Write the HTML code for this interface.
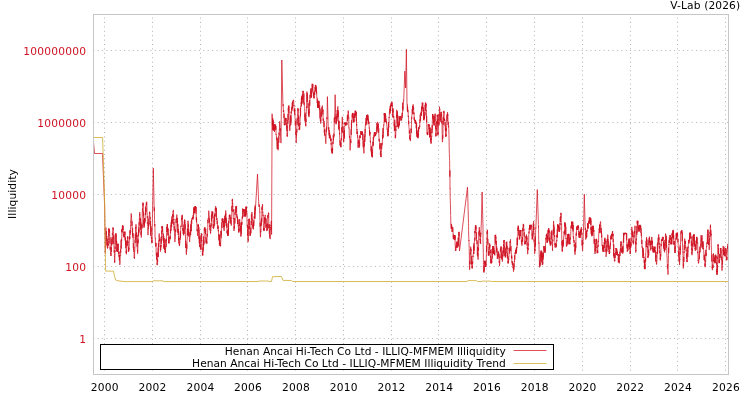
<!DOCTYPE html>
<html lang="en"><head><meta charset="utf-8"><title>V-Lab Illiquidity</title>
<style>
html,body{margin:0;padding:0;background:#fff;}
body{width:750px;height:400px;overflow:hidden;}
svg{display:block;}
text{font-family:"DejaVu Sans","Liberation Sans",sans-serif;font-size:10.667px;}
.yl{fill:#d01424;text-anchor:end;letter-spacing:0.22px;}
.xl{fill:#000;text-anchor:middle;letter-spacing:0.22px;}
.g{stroke:#b4b4b4;stroke-width:1;stroke-dasharray:1 3.4;fill:none;}
</style></head><body>
<svg width="750" height="400" viewBox="0 0 750 400">
<rect x="0" y="0" width="750" height="400" fill="#fff"/>
<line class="g" x1="93.30" y1="50.50" x2="728.50" y2="50.50"/>
<line class="g" x1="93.30" y1="122.50" x2="728.50" y2="122.50"/>
<line class="g" x1="93.30" y1="194.50" x2="728.50" y2="194.50"/>
<line class="g" x1="93.30" y1="266.50" x2="728.50" y2="266.50"/>
<line class="g" x1="93.30" y1="338.50" x2="728.50" y2="338.50"/>
<line class="g" x1="104.50" y1="375.00" x2="104.50" y2="14.50"/>
<line class="g" x1="152.50" y1="375.00" x2="152.50" y2="14.50"/>
<line class="g" x1="200.50" y1="375.00" x2="200.50" y2="14.50"/>
<line class="g" x1="247.50" y1="375.00" x2="247.50" y2="14.50"/>
<line class="g" x1="295.50" y1="375.00" x2="295.50" y2="14.50"/>
<line class="g" x1="343.50" y1="375.00" x2="343.50" y2="14.50"/>
<line class="g" x1="391.50" y1="375.00" x2="391.50" y2="14.50"/>
<line class="g" x1="438.50" y1="375.00" x2="438.50" y2="14.50"/>
<line class="g" x1="486.50" y1="375.00" x2="486.50" y2="14.50"/>
<line class="g" x1="534.50" y1="375.00" x2="534.50" y2="14.50"/>
<line class="g" x1="582.50" y1="375.00" x2="582.50" y2="14.50"/>
<line class="g" x1="630.50" y1="375.00" x2="630.50" y2="14.50"/>
<line class="g" x1="677.50" y1="375.00" x2="677.50" y2="14.50"/>
<line class="g" x1="725.50" y1="375.00" x2="725.50" y2="14.50"/>
<polyline fill="none" stroke="#d01424" stroke-width="0.75" stroke-linejoin="round" points="93.5,142.0 94.5,153.5 102.5,153.5 104.6,205.0 105.3,253.6 105.4,252.8 105.4,244.9 105.5,243.0 105.6,240.8 105.7,237.6 105.8,233.9 105.8,230.5 105.9,227.6 106.0,231.2 106.1,232.3 106.2,231.8 106.2,232.4 106.3,235.5 106.4,231.3 106.5,235.4 106.6,236.6 106.6,240.6 106.7,241.0 106.8,236.0 106.9,245.6 107.0,242.0 107.0,241.4 107.1,238.9 107.2,244.8 107.3,242.7 107.4,247.8 107.4,246.0 107.5,248.5 107.6,247.6 107.7,247.4 107.8,247.9 107.8,243.8 107.9,245.4 108.0,240.7 108.1,241.1 108.2,245.7 108.2,242.9 108.3,238.5 108.4,239.6 108.5,238.5 108.6,233.0 108.6,228.6 108.7,232.4 108.8,233.2 108.9,236.2 109.0,233.9 109.0,228.7 109.1,230.8 109.2,228.7 109.3,230.1 109.4,231.5 109.4,230.3 109.5,232.5 109.6,231.1 109.7,233.8 109.8,238.5 109.8,239.0 109.9,243.5 110.0,237.3 110.1,241.1 110.2,249.7 110.2,246.9 110.3,246.7 110.4,250.7 110.5,251.8 110.6,252.3 110.6,253.9 110.7,252.8 110.8,252.9 110.9,255.9 111.0,254.7 111.0,255.6 111.1,255.1 111.2,249.4 111.3,247.3 111.4,250.7 111.4,251.9 111.5,246.6 111.6,242.6 111.7,245.3 111.8,240.4 111.8,238.7 111.9,243.6 112.0,244.1 112.1,241.8 112.2,237.1 112.2,243.5 112.3,238.1 112.4,233.1 112.5,234.7 112.6,233.3 112.6,231.3 112.7,230.9 112.8,229.9 112.9,227.7 113.0,228.8 113.0,229.1 113.1,227.6 113.2,229.8 113.3,229.3 113.4,235.2 113.4,235.4 113.5,238.2 113.6,237.1 113.7,240.9 113.8,244.2 113.8,242.3 113.9,234.7 114.0,244.9 114.1,249.5 114.2,251.3 114.2,252.3 114.3,250.2 114.4,253.6 114.5,258.2 114.6,262.2 114.6,260.7 114.7,262.7 114.8,260.4 114.9,258.6 115.0,250.6 115.0,251.8 115.1,246.6 115.2,248.9 115.3,246.5 115.4,245.7 115.4,239.2 115.5,237.3 115.6,234.5 115.7,233.2 115.8,235.1 115.8,236.4 115.9,235.6 116.0,236.4 116.1,241.4 116.2,233.7 116.2,243.4 116.3,241.0 116.4,244.9 116.5,243.3 116.6,243.3 116.6,240.9 116.7,242.1 116.8,251.5 116.9,244.4 117.0,247.8 117.0,251.1 117.1,249.2 117.2,248.9 117.3,251.0 117.4,251.4 117.4,252.0 117.5,249.6 117.6,251.4 117.7,247.0 117.8,243.9 117.8,250.3 117.9,244.4 118.0,245.7 118.1,243.6 118.2,244.6 118.2,244.9 118.3,245.9 118.4,246.1 118.5,252.0 118.6,252.0 118.6,253.7 118.7,253.8 118.8,252.0 118.9,254.2 119.0,251.5 119.0,256.6 119.1,254.8 119.2,257.1 119.3,257.3 119.4,260.4 119.4,254.9 119.5,258.9 119.6,260.0 119.7,261.6 119.8,261.6 119.8,264.8 119.9,262.9 120.0,262.6 120.1,259.5 120.2,259.1 120.2,258.5 120.3,256.4 120.4,255.3 120.5,255.9 120.6,255.3 120.6,249.4 120.7,252.7 120.8,246.6 120.9,247.1 121.0,244.9 121.0,240.5 121.1,241.2 121.2,243.2 121.3,248.7 121.4,238.8 121.4,240.8 121.5,239.5 121.6,240.6 121.7,241.2 121.8,234.7 121.8,229.7 121.9,231.7 122.0,228.9 122.1,232.1 122.2,229.3 122.2,228.5 122.3,228.3 122.4,225.6 122.5,225.2 122.6,227.6 122.6,230.3 122.7,230.0 122.8,225.8 122.9,229.9 123.0,229.5 123.0,227.5 123.1,225.7 123.2,233.4 123.3,231.9 123.4,234.0 123.4,235.8 123.5,235.7 123.6,234.3 123.7,236.2 123.8,236.7 123.8,237.1 123.9,236.7 124.0,236.4 124.1,234.7 124.2,234.7 124.2,237.4 124.3,235.9 124.4,237.0 124.5,237.2 124.6,234.2 124.6,233.6 124.7,231.7 124.8,232.9 124.9,234.9 125.0,231.6 125.0,233.3 125.1,237.9 125.2,240.6 125.3,237.2 125.4,239.7 125.4,238.0 125.5,243.0 125.6,245.0 125.7,240.3 125.8,243.4 125.8,248.1 125.9,243.8 126.0,245.4 126.1,252.4 126.2,252.1 126.2,253.0 126.3,251.0 126.4,254.3 126.5,252.5 126.6,250.7 126.6,252.4 126.7,246.5 126.8,245.2 126.9,241.1 127.0,244.8 127.0,242.2 127.1,240.6 127.2,246.1 127.3,240.2 127.4,240.5 127.4,236.9 127.5,236.4 127.6,236.6 127.7,238.9 127.8,237.5 127.8,236.5 127.9,239.8 128.0,241.6 128.1,242.5 128.2,242.7 128.2,241.6 128.3,245.7 128.4,248.8 128.5,252.0 128.6,251.6 128.6,247.4 128.7,250.0 128.8,251.0 128.9,248.3 129.0,248.5 129.0,249.4 129.1,248.0 129.2,244.2 129.3,242.5 129.4,237.6 129.4,238.3 129.5,237.6 129.6,238.6 129.7,235.6 129.8,239.3 129.8,235.3 129.9,231.8 130.0,230.5 130.1,234.3 130.2,234.8 130.2,230.3 130.3,233.0 130.4,230.0 130.5,227.7 130.6,224.8 130.6,223.6 130.7,221.7 130.8,220.7 130.9,221.3 131.0,217.6 131.0,217.7 131.1,216.3 131.2,213.4 131.3,214.8 131.4,216.5 131.4,216.0 131.5,217.6 131.6,217.7 131.7,220.6 131.8,221.7 131.8,221.8 131.9,225.8 132.0,221.2 132.1,228.4 132.2,228.3 132.2,228.4 132.3,232.3 132.4,232.4 132.5,236.0 132.6,227.8 132.6,233.2 132.7,234.1 132.8,236.6 132.9,237.9 133.0,236.1 133.0,233.1 133.1,233.2 133.2,233.8 133.3,247.7 133.4,247.8 133.4,243.2 133.5,243.6 133.6,245.2 133.7,250.0 133.8,247.0 133.8,251.6 133.9,251.5 134.0,250.1 134.1,255.5 134.2,257.9 134.2,257.4 134.3,257.8 134.4,257.3 134.5,258.7 134.6,255.0 134.6,253.7 134.7,252.2 134.8,249.7 134.9,248.6 135.0,245.4 135.0,244.2 135.1,240.1 135.2,243.0 135.3,233.9 135.4,236.7 135.4,239.9 135.5,236.9 135.6,227.0 135.7,228.4 135.8,227.1 135.8,228.4 135.9,224.6 136.0,224.3 136.1,224.9 136.2,226.1 136.2,228.1 136.3,233.9 136.4,233.8 136.5,232.7 136.6,237.0 136.6,232.5 136.7,236.3 136.8,237.0 136.9,242.3 137.0,234.9 137.0,242.2 137.1,246.8 137.2,240.9 137.3,248.0 137.4,250.6 137.4,251.0 137.5,250.0 137.6,253.7 137.7,251.2 137.8,251.4 137.8,248.5 137.9,245.8 138.0,242.3 138.1,239.4 138.2,243.2 138.2,238.6 138.3,237.7 138.4,234.3 138.5,232.0 138.6,236.1 138.6,229.2 138.7,233.4 138.8,230.5 138.9,226.7 139.0,232.4 139.0,228.6 139.1,222.3 139.2,225.6 139.3,219.6 139.4,219.9 139.4,217.2 139.5,215.6 139.6,212.6 139.7,212.9 139.8,212.4 139.8,215.3 139.9,214.4 140.0,216.6 140.1,218.0 140.2,223.1 140.2,218.5 140.3,217.8 140.4,220.4 140.5,227.4 140.6,219.0 140.6,224.4 140.7,230.1 140.8,222.5 140.9,227.0 141.0,234.9 141.0,233.8 141.1,231.7 141.2,236.7 141.3,237.5 141.4,234.4 141.4,230.7 141.5,231.8 141.6,228.2 141.7,228.3 141.8,225.0 141.8,227.3 141.9,223.7 142.0,228.5 142.1,224.5 142.2,219.5 142.2,215.8 142.3,211.8 142.4,212.0 142.5,208.5 142.6,210.4 142.6,209.0 142.7,208.0 142.8,205.4 142.9,202.7 143.0,205.9 143.0,202.8 143.1,202.9 143.2,204.5 143.3,216.6 143.4,211.6 143.4,213.7 143.5,216.4 143.6,221.2 143.7,224.2 143.8,219.8 143.8,221.4 143.9,226.5 144.0,227.8 144.1,226.5 144.2,223.9 144.2,226.6 144.3,221.8 144.4,224.9 144.5,218.8 144.6,221.2 144.6,221.3 144.7,218.2 144.8,223.4 144.9,219.7 145.0,218.1 145.0,221.5 145.1,219.2 145.2,214.7 145.3,213.5 145.4,215.1 145.4,207.0 145.5,206.5 145.6,212.7 145.7,214.3 145.8,211.3 145.8,212.2 145.9,207.8 146.0,211.3 146.1,207.4 146.2,204.3 146.2,204.6 146.3,202.6 146.4,203.4 146.5,205.3 146.6,204.1 146.6,203.3 146.7,201.7 146.8,202.3 146.9,206.0 147.0,210.7 147.0,211.3 147.1,212.4 147.2,216.2 147.3,217.9 147.4,216.2 147.4,223.6 147.5,222.2 147.6,225.7 147.7,226.4 147.8,227.9 147.8,231.6 147.9,233.4 148.0,235.1 148.1,233.8 148.2,231.7 148.2,230.0 148.3,227.7 148.4,228.1 148.5,229.0 148.6,222.9 148.6,226.9 148.7,222.4 148.8,218.6 148.9,220.3 149.0,224.4 149.0,218.2 149.1,216.7 149.2,217.2 149.3,214.9 149.4,214.8 149.4,212.8 149.5,213.2 149.6,211.7 149.7,212.0 149.8,213.5 149.8,212.8 149.9,215.1 150.0,215.9 150.1,219.0 150.2,218.3 150.2,217.2 150.3,225.6 150.4,221.1 150.5,225.3 150.6,224.3 150.6,230.2 150.7,235.9 150.8,230.2 150.9,226.0 151.0,231.8 151.0,231.8 151.1,227.6 151.2,228.1 151.3,234.6 151.4,238.8 151.4,237.4 151.5,237.9 151.6,238.6 151.7,238.1 151.8,243.2 151.8,242.2 151.9,240.2 152.0,242.6 153.3,168.2 154.1,204.8 154.2,209.0 154.2,211.1 154.3,207.4 154.4,210.9 154.5,219.7 154.6,223.5 154.6,224.1 154.7,226.2 154.8,224.0 154.9,227.5 155.0,231.0 155.0,235.0 155.1,238.0 155.2,238.4 155.3,238.2 155.4,237.9 155.4,242.9 155.5,244.4 155.6,245.4 155.7,245.8 155.8,243.1 155.8,246.7 155.9,242.8 156.0,243.4 156.1,247.3 156.2,252.1 156.2,254.8 156.3,255.5 156.4,255.4 156.5,256.0 156.6,253.7 156.6,259.6 156.7,252.7 156.8,255.0 156.9,256.4 157.0,260.0 157.0,261.9 157.1,264.6 157.2,263.5 157.3,265.2 157.4,261.4 157.4,260.2 157.5,259.4 157.6,262.3 157.7,257.7 157.8,255.2 157.8,252.5 157.9,256.9 158.0,257.0 158.1,250.6 158.2,247.4 158.2,257.0 158.3,250.6 158.4,243.6 158.5,246.9 158.6,243.0 158.6,245.8 158.7,240.9 158.8,240.8 158.9,240.3 159.0,241.0 159.0,234.6 159.1,234.0 159.2,233.5 159.3,233.7 159.4,234.8 159.4,238.1 159.5,239.9 159.6,241.4 159.7,238.9 159.8,240.6 159.8,238.6 159.9,240.7 160.0,243.2 160.1,244.7 160.2,246.7 160.2,245.9 160.3,250.2 160.4,251.6 160.5,251.2 160.6,250.6 160.6,247.2 160.7,249.9 160.8,245.4 160.9,247.4 161.0,245.2 161.0,246.2 161.1,238.4 161.2,236.6 161.3,243.7 161.4,240.8 161.4,241.3 161.5,234.8 161.6,232.1 161.7,230.4 161.8,234.1 161.8,233.2 161.9,226.5 162.0,228.4 162.1,226.0 162.2,226.6 162.2,227.3 162.3,226.6 162.4,227.9 162.5,231.5 162.6,226.8 162.6,229.6 162.7,229.4 162.8,232.3 162.9,235.0 163.0,236.5 163.0,236.0 163.1,240.6 163.2,238.0 163.3,235.9 163.4,233.6 163.4,238.2 163.5,239.7 163.6,242.9 163.7,236.0 163.8,244.6 163.8,248.6 163.9,246.2 164.0,244.1 164.1,244.9 164.2,247.5 164.2,246.1 164.3,238.1 164.4,249.2 164.5,245.5 164.6,244.8 164.6,249.7 164.7,247.7 164.8,246.5 164.9,250.1 165.0,247.9 165.0,249.1 165.1,251.7 165.2,250.8 165.3,252.9 165.4,250.5 165.4,253.1 165.5,250.5 165.6,245.8 165.7,245.3 165.8,242.0 165.8,239.5 165.9,242.1 166.0,241.6 166.1,242.4 166.2,247.1 166.2,238.8 166.3,241.1 166.4,239.8 166.5,232.4 166.6,229.4 166.6,227.7 166.7,227.1 166.8,228.3 166.9,230.9 167.0,231.7 167.0,226.9 167.1,227.1 167.2,224.3 167.3,226.2 167.4,228.8 167.4,224.1 167.5,224.7 167.6,232.2 167.7,227.6 167.8,230.2 167.8,228.5 167.9,235.5 168.0,228.9 168.1,229.2 168.2,234.8 168.2,234.1 168.3,233.5 168.4,234.5 168.5,243.2 168.6,241.3 168.6,238.6 168.7,237.3 168.8,239.7 168.9,240.3 169.0,243.3 169.0,242.4 169.1,243.2 169.2,242.5 169.3,240.6 169.4,240.6 169.4,240.4 169.5,240.5 169.6,240.7 169.7,238.0 169.8,238.5 169.8,237.4 169.9,238.8 170.0,235.7 170.1,237.5 170.2,236.4 170.2,239.3 170.3,233.2 170.4,229.4 170.5,231.2 170.6,233.4 170.6,228.7 170.7,228.0 170.8,225.5 170.9,226.0 171.0,226.1 171.0,230.8 171.1,229.0 171.2,222.1 171.3,226.7 171.4,223.2 171.4,221.9 171.5,219.8 171.6,227.0 171.7,223.6 171.8,219.8 171.8,216.5 171.9,217.0 172.0,220.7 172.1,220.6 172.2,222.3 172.2,222.2 172.3,219.5 172.4,223.7 172.5,218.5 172.6,214.1 172.6,214.5 172.7,216.5 172.8,215.1 172.9,213.4 173.0,211.6 173.0,211.1 173.1,211.0 173.2,211.4 173.3,210.6 173.4,209.9 173.4,212.3 173.5,216.9 173.6,215.3 173.7,220.4 173.8,218.9 173.8,225.1 173.9,221.5 174.0,223.4 174.1,229.3 174.2,230.5 174.2,229.9 174.3,225.9 174.4,229.8 174.5,234.8 174.6,234.5 174.6,236.8 174.7,238.7 174.8,240.3 174.9,242.0 175.0,240.4 175.0,239.3 175.1,238.6 175.2,237.9 175.3,238.2 175.4,235.7 175.4,236.0 175.5,230.2 175.6,229.7 175.7,232.1 175.8,230.0 175.8,228.8 175.9,229.3 176.0,228.4 176.1,219.1 176.2,222.8 176.2,223.0 176.3,219.1 176.4,218.4 176.5,219.7 176.6,218.9 176.6,219.5 176.7,215.7 176.8,214.6 176.9,216.5 177.0,216.7 177.0,218.4 177.1,220.3 177.2,217.8 177.3,218.0 177.4,222.0 177.4,226.2 177.5,219.9 177.6,227.6 177.7,228.0 177.8,232.8 177.8,224.8 177.9,224.1 178.0,228.3 178.1,231.0 178.2,230.8 178.2,235.0 178.3,229.2 178.4,231.0 178.5,232.2 178.6,234.8 178.6,240.0 178.7,236.5 178.8,240.2 178.9,243.3 179.0,238.2 179.0,241.0 179.1,243.5 179.2,243.2 179.3,244.5 179.4,245.9 179.4,243.9 179.5,245.3 179.6,243.9 179.7,244.4 179.8,243.2 179.8,242.2 179.9,242.3 180.0,238.4 180.1,239.7 180.2,237.9 180.2,236.4 180.3,231.3 180.4,238.4 180.5,233.1 180.6,236.2 180.6,236.0 180.7,229.3 180.8,225.9 180.9,225.8 181.0,225.7 181.0,226.6 181.1,226.9 181.2,226.3 181.3,226.4 181.4,223.9 181.4,222.4 181.5,220.0 181.6,218.1 181.7,219.8 181.8,217.9 181.8,216.5 181.9,215.6 182.0,216.6 182.1,217.8 182.2,219.1 182.2,215.3 182.3,214.8 182.4,216.9 182.5,219.6 182.6,227.1 182.6,227.2 182.7,227.4 182.8,229.6 182.9,228.1 183.0,231.2 183.0,228.9 183.1,233.8 183.2,233.6 183.3,232.3 183.4,231.6 183.4,233.5 183.5,235.0 183.6,235.3 183.7,230.6 183.8,229.8 183.8,234.2 183.9,224.6 184.0,228.1 184.1,233.8 184.2,224.3 184.2,223.8 184.3,221.7 184.4,222.7 184.5,219.5 184.6,220.7 184.6,224.3 184.7,222.1 184.8,220.0 184.9,220.3 185.0,223.2 185.0,223.4 185.1,229.3 185.2,223.8 185.3,230.7 185.4,235.5 185.4,235.6 185.5,235.3 185.6,248.0 185.7,240.9 185.8,244.2 185.8,243.2 185.9,242.6 186.0,244.1 186.1,244.5 186.2,249.4 186.2,253.1 186.3,252.8 186.4,254.6 186.5,253.0 186.6,249.6 186.6,250.9 186.7,244.3 186.8,246.8 186.9,248.8 187.0,245.4 187.0,239.7 187.1,239.6 187.2,239.7 187.3,236.7 187.4,228.7 187.4,235.3 187.5,229.8 187.6,227.7 187.7,227.1 187.8,224.7 187.8,224.5 187.9,221.1 188.0,220.8 188.1,222.0 188.2,221.8 188.2,223.3 188.3,227.4 188.4,223.8 188.5,231.0 188.6,235.7 188.6,232.0 188.7,228.8 188.8,232.3 188.9,233.7 189.0,231.9 189.0,236.3 189.1,233.1 189.2,236.6 189.3,236.3 189.4,238.1 189.4,238.5 189.5,241.2 189.6,242.0 189.7,241.4 189.8,239.3 189.8,239.0 189.9,237.5 190.0,236.9 190.1,235.9 190.2,236.2 190.2,234.5 190.3,233.9 190.4,234.6 190.5,231.2 190.6,229.8 190.6,235.1 190.7,233.9 190.8,225.1 190.9,224.6 191.0,231.2 191.0,223.7 191.1,231.1 191.2,229.0 191.3,221.4 191.4,222.4 191.4,222.5 191.5,219.7 191.6,223.8 191.7,223.9 191.8,223.5 191.8,221.3 191.9,219.7 192.0,218.6 192.1,217.9 192.2,218.6 192.2,219.2 192.3,219.2 192.4,218.1 192.5,218.8 192.6,219.0 192.6,217.1 192.7,218.0 192.8,217.2 192.9,219.4 193.0,219.6 193.0,218.6 193.1,215.2 193.2,216.4 193.3,218.5 193.4,217.0 193.4,214.6 193.5,212.0 193.6,213.0 193.7,212.4 193.8,214.8 193.8,207.4 193.9,210.0 194.0,212.7 194.1,207.4 194.2,210.0 194.2,209.1 194.3,212.8 194.4,208.8 194.5,213.0 194.6,211.1 194.6,210.9 194.7,207.5 194.8,206.9 194.9,208.9 195.0,208.7 195.0,206.1 195.1,209.6 195.2,211.1 195.3,207.1 195.4,206.0 195.4,207.5 195.5,206.0 195.6,208.0 195.7,206.5 195.8,208.0 195.8,208.8 195.9,212.1 196.0,213.7 196.1,207.1 196.2,211.5 196.2,213.8 196.3,220.2 196.4,217.1 196.5,222.2 196.6,218.8 196.6,219.9 196.7,222.7 196.8,222.9 196.9,225.9 197.0,229.9 197.0,231.1 197.1,231.2 197.2,229.7 197.3,228.9 197.4,231.0 197.4,232.5 197.5,234.3 197.6,235.8 197.7,236.0 197.8,233.0 197.8,233.0 197.9,230.8 198.0,226.8 198.1,224.5 198.2,226.8 198.2,224.4 198.3,226.8 198.4,224.7 198.5,225.2 198.6,229.4 198.6,228.0 198.7,230.6 198.8,226.8 198.9,236.5 199.0,239.0 199.0,230.0 199.1,234.3 199.2,240.7 199.3,243.2 199.4,237.2 199.4,236.4 199.5,236.9 199.6,247.0 199.7,245.5 199.8,245.1 199.8,240.1 199.9,236.4 200.0,238.8 200.1,242.8 200.2,245.9 200.2,246.6 200.3,246.4 200.4,249.6 200.5,249.5 200.6,247.7 200.6,245.3 200.7,244.4 200.8,244.1 200.9,249.4 201.0,248.3 201.0,243.2 201.1,234.8 201.2,239.7 201.3,241.7 201.4,238.0 201.4,236.6 201.5,233.4 201.6,234.1 201.7,235.0 201.8,233.9 201.8,240.6 201.9,240.0 202.0,246.0 202.1,247.9 202.2,248.8 202.2,249.8 202.3,248.4 202.4,255.2 202.5,251.8 202.6,252.1 202.6,254.0 202.7,255.7 202.8,254.0 202.9,254.7 203.0,250.9 203.0,251.9 203.1,251.2 203.2,247.0 203.3,250.4 203.4,244.1 203.4,246.6 203.5,239.4 203.6,236.5 203.7,239.5 203.8,245.2 203.8,240.7 203.9,243.7 204.0,243.7 204.1,241.7 204.2,238.5 204.2,229.2 204.3,229.7 204.4,227.7 204.5,230.6 204.6,229.1 204.6,229.5 204.7,228.4 204.8,227.6 204.9,227.1 205.0,227.8 205.0,229.4 205.1,232.4 205.2,232.9 205.3,230.0 205.4,229.8 205.4,234.2 205.5,234.2 205.6,229.3 205.7,228.6 205.8,228.6 205.8,228.9 205.9,239.2 206.0,237.1 206.1,243.4 206.2,239.1 206.2,242.1 206.3,240.0 206.4,241.0 206.5,241.9 206.6,241.6 206.6,242.6 206.7,243.5 206.8,241.9 206.9,243.3 207.0,242.3 207.0,240.4 207.1,237.8 207.2,233.9 207.3,235.1 207.4,236.5 207.4,235.1 207.5,232.4 207.6,230.9 207.7,227.6 207.8,227.3 207.8,220.9 207.9,219.6 208.0,222.6 208.1,223.2 208.2,222.5 208.2,220.3 208.3,218.2 208.4,218.9 208.5,217.9 208.6,218.6 208.6,214.0 208.7,211.9 208.8,210.7 208.9,213.0 209.0,214.1 209.0,214.4 209.1,216.0 209.2,215.9 209.3,219.6 209.4,219.2 209.4,222.6 209.5,218.5 209.6,222.9 209.7,226.7 209.8,225.1 209.8,226.1 209.9,227.1 210.0,230.1 210.1,225.5 210.2,227.0 210.2,229.9 210.3,231.2 210.4,232.9 210.5,232.2 210.6,233.6 210.6,229.7 210.7,229.7 210.8,230.8 210.9,230.2 211.0,228.3 211.0,225.5 211.1,223.2 211.2,226.6 211.3,223.3 211.4,222.3 211.4,215.9 211.5,221.3 211.6,216.9 211.7,214.4 211.8,216.2 211.8,214.7 211.9,211.4 212.0,211.8 212.1,212.1 212.2,211.6 212.2,215.4 212.3,212.0 212.4,212.2 212.5,214.8 212.6,216.5 212.6,214.3 212.7,214.2 212.8,211.8 212.9,218.5 213.0,216.6 213.0,218.8 213.1,225.0 213.2,228.3 213.3,224.1 213.4,226.2 213.4,227.1 213.5,228.3 213.6,228.8 213.7,227.4 213.8,225.5 213.8,227.5 213.9,226.5 214.0,222.2 214.1,219.7 214.2,220.1 214.2,221.7 214.3,220.7 214.4,216.0 214.5,214.4 214.6,217.4 214.6,225.5 214.7,217.9 214.8,214.8 214.9,216.2 215.0,213.6 215.0,215.5 215.1,212.1 215.2,211.3 215.3,208.6 215.4,209.8 215.4,207.6 215.5,206.5 215.6,206.3 215.7,206.2 215.8,211.4 215.8,210.3 215.9,209.2 216.0,207.8 216.1,210.7 216.2,217.0 216.2,214.1 216.3,212.5 216.4,207.9 216.5,211.1 216.6,218.4 216.6,217.6 216.7,218.5 216.8,220.0 216.9,218.3 217.0,219.7 217.0,221.1 217.1,222.9 217.2,224.2 217.3,220.6 217.4,222.4 217.4,225.5 217.5,225.6 217.6,225.6 217.7,225.8 217.8,228.8 217.8,226.8 217.9,225.2 218.0,228.7 218.1,228.5 218.2,226.7 218.2,230.4 218.3,231.3 218.4,229.9 218.5,229.9 218.6,232.9 218.6,235.4 218.7,235.6 218.8,240.3 218.9,239.9 219.0,234.1 219.0,236.4 219.1,235.0 219.2,236.3 219.3,236.4 219.4,241.9 219.4,245.7 219.5,235.1 219.6,241.6 219.7,244.5 219.8,243.9 219.8,239.3 219.9,240.6 220.0,244.1 220.1,243.8 220.2,242.7 220.2,243.9 220.3,244.8 220.4,246.2 220.5,244.8 220.6,246.2 220.6,246.2 220.7,242.7 220.8,240.7 220.9,231.9 221.0,231.0 221.0,235.8 221.1,238.4 221.2,230.7 221.3,235.4 221.4,232.3 221.4,228.8 221.5,227.4 221.6,227.4 221.7,226.9 221.8,223.3 221.8,222.4 221.9,228.1 222.0,228.1 222.1,220.3 222.2,218.5 222.2,221.1 222.3,218.7 222.4,218.7 222.5,219.1 222.6,218.8 222.6,220.4 222.7,222.4 222.8,219.5 222.9,218.6 223.0,220.0 223.0,219.4 223.1,223.0 223.2,222.9 223.3,221.6 223.4,223.2 223.4,227.2 223.5,223.3 223.6,220.7 223.7,220.6 223.8,227.2 223.8,228.6 223.9,228.3 224.0,230.8 224.1,230.7 224.2,230.9 224.2,226.2 224.3,227.3 224.4,225.3 224.5,226.3 224.6,223.5 224.6,217.9 224.7,220.7 224.8,226.0 224.9,215.7 225.0,223.0 225.0,220.0 225.1,218.9 225.2,216.5 225.3,221.6 225.4,214.0 225.4,217.5 225.5,216.4 225.6,213.0 225.7,210.5 225.8,210.9 225.8,214.4 225.9,213.9 226.0,213.7 226.1,217.0 226.2,223.1 226.2,218.3 226.3,217.8 226.4,223.1 226.5,225.5 226.6,224.1 226.6,224.4 226.7,225.2 226.8,227.6 226.9,223.1 227.0,231.5 227.0,232.3 227.1,233.5 227.2,230.9 227.3,232.8 227.4,230.9 227.4,230.7 227.5,234.2 227.6,235.7 227.7,234.5 227.8,231.2 227.8,235.9 227.9,230.0 228.0,235.5 228.1,232.3 228.2,229.1 228.2,235.5 228.3,227.7 228.4,223.5 228.5,231.3 228.6,224.3 228.6,224.0 228.7,221.2 228.8,223.4 228.9,220.6 229.0,221.2 229.0,221.3 229.1,218.2 229.2,219.2 229.3,215.1 229.4,215.2 229.4,217.0 229.5,214.9 229.6,215.3 229.7,215.7 229.8,217.6 229.8,214.5 229.9,214.8 230.0,215.5 230.1,215.6 230.2,215.5 230.2,219.0 230.3,219.2 230.4,217.6 230.5,217.0 230.6,218.6 230.6,223.1 230.7,219.1 230.8,220.5 230.9,223.6 231.0,222.6 231.0,223.2 231.1,223.9 231.2,224.5 231.3,225.6 231.4,223.6 231.4,219.5 231.5,216.4 231.6,216.3 231.7,214.6 231.8,213.0 231.8,206.2 231.9,210.2 232.0,211.0 232.1,207.1 232.2,204.5 232.2,199.7 232.3,200.9 232.4,198.9 232.5,198.9 232.6,204.2 232.6,203.2 232.7,207.1 232.8,205.9 232.9,211.7 233.0,209.8 233.0,211.6 233.1,210.0 233.2,209.2 233.3,218.9 233.4,218.3 233.4,218.7 233.5,219.1 233.6,222.2 233.7,225.1 233.8,225.4 233.8,226.0 233.9,229.0 234.0,230.9 234.1,229.3 234.2,228.2 234.2,226.2 234.3,226.1 234.4,228.6 234.5,226.6 234.6,218.0 234.6,218.8 234.7,219.4 234.8,218.4 234.9,223.5 235.0,216.2 235.0,212.3 235.1,214.8 235.2,209.6 235.3,211.4 235.4,211.0 235.4,210.9 235.5,207.8 235.6,206.9 235.7,206.5 235.8,206.3 235.8,208.4 235.9,213.2 236.0,210.8 236.1,211.9 236.2,208.3 236.2,206.8 236.3,208.2 236.4,208.7 236.5,210.2 236.6,205.9 236.6,206.7 236.7,215.8 236.8,214.2 236.9,217.9 237.0,215.9 237.0,216.1 237.1,217.1 237.2,217.1 237.3,218.1 237.4,219.1 237.4,220.5 237.5,217.0 237.6,217.7 237.7,223.9 237.8,220.4 237.8,224.1 237.9,223.5 238.0,219.4 238.1,223.7 238.2,224.2 238.2,225.3 238.3,226.4 238.4,225.2 238.5,230.7 238.6,228.9 238.6,231.8 238.7,229.6 238.8,232.7 238.9,228.9 239.0,228.7 239.0,231.5 239.1,227.1 239.2,226.2 239.3,223.5 239.4,226.0 239.4,224.9 239.5,221.2 239.6,219.0 239.7,219.6 239.8,220.4 239.8,222.6 239.9,224.5 240.0,224.0 240.1,223.4 240.2,230.4 240.2,227.8 240.3,229.1 240.4,226.0 240.5,228.5 240.6,231.5 240.6,230.6 240.7,233.3 240.8,234.9 240.9,236.6 241.0,234.5 241.0,235.4 241.1,229.3 241.2,222.0 241.3,234.0 241.4,229.8 241.4,224.9 241.5,226.7 241.6,223.0 241.7,224.0 241.8,222.0 241.8,225.0 241.9,220.2 242.0,219.4 242.1,219.4 242.2,218.8 242.2,217.4 242.3,218.5 242.4,216.1 242.5,217.9 242.6,215.5 242.6,208.4 242.7,208.6 242.8,212.6 242.9,217.2 243.0,211.9 243.0,211.8 243.1,211.7 243.2,210.4 243.3,209.4 243.4,210.6 243.4,209.2 243.5,209.7 243.6,209.3 243.7,209.0 243.8,209.6 243.8,209.7 243.9,211.0 244.0,212.9 244.1,211.4 244.2,209.2 244.2,216.1 244.3,215.3 244.4,209.8 244.5,214.6 244.6,213.4 244.6,216.3 244.7,215.6 244.8,214.9 244.9,215.8 245.0,216.4 245.0,216.7 245.1,216.3 245.2,215.9 245.3,216.6 245.4,214.0 245.4,215.7 245.5,214.9 245.6,208.7 245.7,215.8 245.8,213.8 245.8,206.6 245.9,208.5 246.0,207.6 246.1,207.1 246.2,213.0 246.2,210.3 246.3,210.0 246.4,208.4 246.5,206.5 246.6,208.5 246.6,209.4 246.7,213.9 246.8,214.4 246.9,213.3 247.0,216.9 247.0,219.1 247.1,224.9 247.2,225.6 247.3,225.2 247.4,228.0 247.4,227.4 247.5,224.9 247.6,236.0 247.7,229.1 247.8,232.3 247.8,237.8 247.9,240.2 248.0,241.8 248.1,242.1 248.2,241.7 248.2,239.3 248.3,239.8 248.4,240.3 248.5,234.0 248.6,227.0 248.6,226.3 248.7,229.2 248.8,218.9 248.9,224.9 249.0,225.5 249.0,220.9 249.1,220.6 249.2,219.2 249.3,219.8 249.4,218.6 249.4,222.3 249.5,229.1 249.6,226.7 249.7,227.9 249.8,226.7 249.8,229.6 249.9,231.3 250.0,235.8 250.1,232.2 250.2,231.1 250.2,234.0 250.3,235.5 250.4,235.5 250.5,232.4 250.6,234.1 250.6,232.4 250.7,228.2 250.8,229.6 250.9,233.1 251.0,230.2 251.0,224.6 251.1,224.7 251.2,220.7 251.3,225.0 251.4,219.4 251.4,214.5 251.5,219.9 251.6,217.8 251.7,217.9 251.8,213.3 251.8,212.4 251.9,212.0 252.0,214.7 252.1,214.4 252.2,214.4 252.2,216.1 252.3,217.2 252.4,220.2 252.5,219.4 252.6,222.1 252.6,223.1 252.7,226.8 252.8,226.7 252.9,228.6 253.0,224.8 253.0,226.1 253.1,227.0 253.2,226.8 253.3,223.5 253.4,229.4 253.4,221.9 253.5,225.9 253.6,223.6 253.7,222.4 253.8,220.5 253.8,226.0 253.9,221.3 254.0,221.2 254.1,219.2 254.2,217.1 254.2,216.9 254.3,216.1 254.4,218.3 254.5,216.3 254.6,211.7 254.6,214.7 254.7,212.7 254.8,213.3 254.9,211.8 255.0,207.2 255.0,218.7 255.1,207.7 255.2,205.3 255.3,210.6 255.4,208.8 255.4,207.4 255.5,207.6 255.6,205.9 257.5,174.1 258.8,205.0 258.9,204.8 259.0,204.5 259.0,206.0 259.1,207.0 259.2,205.3 259.3,204.9 259.4,206.7 259.4,206.9 259.5,207.0 259.6,207.3 259.7,211.1 259.8,212.4 259.8,211.8 259.9,219.7 260.0,220.7 260.1,226.5 260.2,222.7 260.2,231.4 260.3,233.6 260.4,237.1 260.5,237.2 260.6,234.8 260.6,230.6 260.7,231.1 260.8,232.2 260.9,229.1 261.0,229.6 261.0,224.9 261.1,225.5 261.2,225.8 261.3,219.4 261.4,225.2 261.4,221.3 261.5,222.4 261.6,217.9 261.7,221.5 261.8,214.3 261.8,210.3 261.9,207.2 262.0,209.9 262.1,208.9 262.2,207.5 262.2,206.1 262.3,206.6 262.4,206.1 262.5,204.0 262.6,204.6 262.6,210.2 262.7,212.7 262.8,211.9 262.9,213.9 263.0,216.1 263.0,214.6 263.1,215.2 263.2,220.3 263.3,222.1 263.4,223.7 263.4,227.0 263.5,227.5 263.6,230.8 263.7,230.4 263.8,227.6 263.8,229.9 263.9,228.0 264.0,229.1 264.1,228.4 264.2,230.9 264.2,228.3 264.3,227.3 264.4,217.1 264.5,217.7 264.6,223.6 264.6,222.5 264.7,218.8 264.8,218.3 264.9,218.9 265.0,217.0 265.0,216.3 265.1,214.9 265.2,215.3 265.3,215.3 265.4,216.6 265.4,219.1 265.5,218.7 265.6,220.0 265.7,218.8 265.8,224.6 265.8,227.8 265.9,219.4 266.0,218.5 266.1,221.0 266.2,220.5 266.2,222.6 266.3,222.9 266.4,226.5 266.5,224.9 266.6,225.6 266.6,226.8 266.7,230.1 266.8,231.1 266.9,228.8 267.0,228.4 267.0,227.5 267.1,225.9 267.2,225.1 267.3,223.7 267.4,224.8 267.4,223.9 267.5,230.3 267.6,228.8 267.7,220.5 267.8,216.8 267.8,215.4 267.9,218.3 268.0,215.6 268.1,215.4 268.2,216.7 268.2,216.3 268.3,214.9 268.4,212.7 268.5,212.6 268.6,214.3 268.6,214.0 268.7,213.3 268.8,221.8 268.9,228.2 269.0,224.4 269.0,224.6 269.1,228.3 269.2,224.4 269.3,231.2 269.4,234.1 269.4,230.9 269.5,229.1 269.6,236.3 269.7,237.4 269.8,234.4 269.8,234.8 269.9,235.5 270.0,239.0 270.1,239.0 270.2,239.0 270.2,235.8 270.3,235.3 270.4,232.4 270.5,230.6 270.6,230.8 270.6,229.5 270.7,226.9 270.8,228.6 270.9,229.9 271.0,224.8 271.0,226.2 271.1,225.4 271.2,221.9 271.3,220.8 271.4,224.9 271.4,228.2 271.5,226.6 271.6,234.5 271.7,208.1 271.8,182.4 271.9,163.5 272.0,137.7 272.0,114.3 272.1,113.8 272.2,114.0 272.3,119.1 272.4,120.2 272.4,125.7 272.5,119.4 272.6,125.0 272.7,129.9 272.8,118.2 272.8,118.9 272.9,120.4 273.0,125.2 273.1,122.7 273.2,124.7 273.2,120.1 273.3,130.9 273.4,124.2 273.5,127.5 273.6,130.0 273.6,126.2 273.7,128.1 273.8,129.7 273.9,129.7 274.0,129.4 274.0,126.9 274.1,129.2 274.2,129.1 274.3,130.1 274.4,128.9 274.4,128.0 274.5,131.9 274.6,124.7 274.7,128.1 274.8,124.2 274.8,126.1 274.9,127.8 275.0,127.7 275.1,126.2 275.2,125.0 275.2,124.4 275.3,124.6 275.4,124.6 275.5,126.3 275.6,128.7 275.6,126.8 275.7,129.5 275.8,130.1 275.9,125.8 276.0,131.2 276.0,134.7 276.1,134.0 276.2,134.8 276.3,135.0 276.4,135.7 276.4,135.9 276.5,137.8 276.6,138.2 276.7,137.2 276.8,138.6 276.8,140.2 276.9,138.1 277.0,141.6 277.1,141.7 277.2,149.1 277.2,138.5 277.3,139.8 277.4,146.3 277.5,144.3 277.6,142.2 277.6,145.0 277.7,141.7 277.8,144.8 277.9,148.5 278.0,147.1 278.0,150.2 278.1,150.3 278.2,149.5 278.3,145.4 278.4,146.1 278.4,144.9 278.5,140.6 278.6,138.7 278.7,136.3 278.8,138.1 278.8,142.7 278.9,139.1 279.0,135.0 279.1,132.4 279.2,135.6 279.2,132.9 279.3,130.2 279.4,129.2 279.5,126.6 279.6,125.0 279.6,124.1 279.7,121.4 279.8,124.1 279.9,125.5 280.0,125.3 280.0,130.5 280.1,130.9 280.2,129.3 280.3,130.7 280.4,128.9 280.4,131.0 280.5,128.3 280.6,136.9 280.7,137.4 280.8,137.4 280.8,140.4 280.9,143.1 281.0,142.4 281.8,60.0 282.9,103.0 283.0,104.7 283.1,106.1 283.2,104.3 283.2,108.4 283.3,108.4 283.4,112.0 283.5,110.3 283.6,110.5 283.6,111.1 283.7,110.5 283.8,112.2 283.9,112.6 284.0,118.0 284.0,115.5 284.1,113.8 284.2,125.0 284.3,124.7 284.4,124.6 284.4,124.7 284.5,124.2 284.6,125.2 284.7,125.3 284.8,122.7 284.8,119.5 284.9,119.0 285.0,118.2 285.1,117.7 285.2,125.0 285.2,124.8 285.3,122.1 285.4,118.7 285.5,118.5 285.6,118.5 285.6,119.9 285.7,120.1 285.8,118.0 285.9,119.8 286.0,118.0 286.0,121.3 286.1,119.8 286.2,119.7 286.3,124.5 286.4,122.7 286.4,125.9 286.5,126.3 286.6,127.0 286.7,127.8 286.8,124.9 286.8,130.9 286.9,126.2 287.0,133.6 287.1,133.2 287.2,136.5 287.2,134.6 287.3,136.0 287.4,136.4 287.5,134.6 287.6,132.9 287.6,129.0 287.7,119.8 287.8,123.7 287.9,122.6 288.0,120.9 288.0,114.0 288.1,119.8 288.2,115.9 288.3,108.0 288.4,110.8 288.4,106.2 288.5,106.2 288.6,108.7 288.7,106.9 288.8,113.3 288.8,112.6 288.9,105.3 289.0,109.6 289.1,116.4 289.2,117.5 289.2,120.1 289.3,120.3 289.4,124.4 289.5,125.9 289.6,128.4 289.6,127.8 289.7,128.5 289.8,130.8 289.9,128.2 290.0,127.0 290.0,125.2 290.1,126.1 290.2,125.3 290.3,125.2 290.4,125.1 290.4,125.0 290.5,117.1 290.6,120.3 290.7,116.4 290.8,124.9 290.8,115.2 290.9,122.2 291.0,117.7 291.1,112.0 291.2,111.4 291.2,112.5 291.3,113.4 291.4,112.0 291.5,112.6 291.6,110.0 291.6,107.7 291.7,110.2 291.8,109.2 291.9,109.6 292.0,110.6 292.0,106.5 292.1,108.5 292.2,106.6 292.3,102.7 292.4,108.8 292.4,104.3 292.5,101.3 292.6,104.5 292.7,106.4 292.8,104.1 292.8,104.2 292.9,103.7 293.0,102.8 293.1,103.2 293.2,102.0 293.2,99.9 293.3,99.9 293.4,100.5 293.5,100.4 293.6,99.9 293.6,100.0 293.7,102.9 293.8,104.0 293.9,106.1 294.0,105.2 294.0,107.7 294.1,107.9 294.2,111.4 294.3,110.8 294.4,109.1 294.4,109.2 294.5,112.0 294.6,114.5 294.7,114.9 294.8,108.3 294.8,110.2 294.9,115.0 295.0,117.6 295.1,118.0 295.2,118.9 295.2,122.3 295.3,125.4 295.4,120.8 295.5,121.8 295.6,129.0 295.6,131.9 295.7,132.4 295.8,135.1 295.9,131.6 296.0,137.0 296.0,139.4 296.1,142.1 296.2,143.0 296.3,142.0 296.4,139.2 296.4,138.2 296.5,134.5 296.6,135.6 296.7,129.1 296.8,129.5 296.8,132.6 296.9,127.4 297.0,119.9 297.1,123.4 297.2,124.7 297.2,118.2 297.3,120.0 297.4,116.2 297.5,113.8 297.6,113.7 297.6,111.2 297.7,108.6 297.8,108.1 297.9,109.0 298.0,108.6 298.0,109.1 298.1,111.1 298.2,109.1 298.3,109.6 298.4,117.5 298.4,118.6 298.5,118.8 298.6,115.4 298.7,126.4 298.8,116.7 298.8,125.2 298.9,124.2 299.0,123.0 299.1,123.7 299.2,129.8 299.2,127.9 299.3,130.1 299.4,129.5 299.5,129.0 299.6,126.2 299.6,127.3 299.7,129.5 299.8,123.5 299.9,123.4 300.0,125.1 300.0,121.2 300.1,119.7 300.2,118.8 300.3,115.7 300.4,107.8 300.4,109.5 300.5,116.3 300.6,113.6 300.7,108.8 300.8,105.9 300.8,105.8 300.9,106.4 301.0,105.5 301.1,102.7 301.2,103.9 301.2,102.6 301.3,101.3 301.4,98.2 301.5,106.2 301.6,101.1 301.6,99.7 301.7,96.6 301.8,104.0 301.9,99.9 302.0,95.7 302.0,103.2 302.1,97.2 302.2,97.2 302.3,99.7 302.4,97.4 302.4,94.2 302.5,97.7 302.6,98.2 302.7,91.4 302.8,91.7 302.8,91.4 302.9,91.3 303.0,90.9 303.1,90.8 303.2,92.7 303.2,91.1 303.3,91.3 303.4,94.3 303.5,94.7 303.6,95.8 303.6,102.7 303.7,101.3 303.8,97.6 303.9,93.4 304.0,104.7 304.0,103.1 304.1,102.3 304.2,102.2 304.3,104.0 304.4,104.9 304.4,106.5 304.5,107.5 304.6,108.7 304.7,111.3 304.8,113.4 304.8,116.9 304.9,114.4 305.0,121.4 305.1,112.7 305.2,118.0 305.2,119.3 305.3,117.4 305.4,122.1 305.5,123.3 305.6,123.0 305.6,125.3 305.7,124.2 305.8,126.3 305.9,124.2 306.0,119.1 306.0,122.0 306.1,120.5 306.2,114.6 306.3,111.7 306.4,108.5 306.4,106.8 306.5,108.0 306.6,104.8 306.7,97.2 306.8,97.3 306.8,95.7 306.9,91.6 307.0,92.5 307.1,96.2 307.2,93.1 307.2,102.0 307.3,95.6 307.4,98.4 307.5,96.9 307.6,97.1 307.6,100.8 307.7,100.9 307.8,102.5 307.9,102.4 308.0,105.7 308.0,108.1 308.1,105.2 308.2,103.3 308.3,110.9 308.4,110.6 308.4,114.0 308.5,112.2 308.6,115.9 308.7,114.1 308.8,108.6 308.8,114.8 308.9,116.3 309.0,117.1 309.1,116.8 309.2,115.8 309.2,111.2 309.3,113.4 309.4,112.8 309.5,110.1 309.6,104.8 309.6,100.0 309.7,105.8 309.8,104.3 309.9,100.8 310.0,97.6 310.0,98.4 310.1,94.8 310.2,97.2 310.3,95.2 310.4,94.5 310.4,93.6 310.5,90.0 310.6,88.6 310.7,88.8 310.8,89.7 310.8,92.8 310.9,97.6 311.0,95.6 311.1,93.2 311.2,92.6 311.2,91.2 311.3,94.7 311.4,92.5 311.5,97.7 311.6,97.2 311.6,97.2 311.7,92.2 311.8,88.1 311.9,90.4 312.0,92.4 312.0,90.2 312.1,83.9 312.2,84.1 312.3,87.4 312.4,90.8 312.4,84.4 312.5,84.4 312.6,84.1 312.7,86.8 312.8,87.7 312.8,83.8 312.9,87.6 313.0,89.5 313.1,90.7 313.2,91.6 313.2,92.8 313.3,92.6 313.4,95.4 313.5,96.0 313.6,92.6 313.6,96.0 313.7,97.8 313.8,97.7 313.9,98.4 314.0,96.2 314.0,97.0 314.1,97.9 314.2,98.1 314.3,98.2 314.4,94.6 314.4,91.4 314.5,91.9 314.6,92.4 314.7,95.1 314.8,90.7 314.8,91.4 314.9,90.4 315.0,90.1 315.1,87.1 315.2,87.4 315.2,90.0 315.3,85.2 315.4,84.9 315.5,89.7 315.6,91.2 315.6,87.1 315.7,85.5 315.8,85.8 315.9,85.8 316.0,86.6 316.0,85.4 316.1,88.3 316.2,91.0 316.3,92.1 316.4,87.0 316.4,92.9 316.5,93.7 316.6,91.2 316.7,93.0 316.8,96.9 316.8,97.7 316.9,97.5 317.0,98.2 317.1,98.1 317.2,101.3 317.2,103.1 317.3,101.1 317.4,98.6 317.5,107.9 317.6,102.2 317.6,105.8 317.7,107.3 317.8,107.0 317.9,106.6 318.0,102.9 318.0,101.2 318.1,100.9 318.2,105.7 318.3,104.0 318.4,100.9 318.4,107.5 318.5,105.9 318.6,107.8 318.7,103.7 318.8,101.7 318.8,104.0 318.9,100.9 319.0,102.3 319.1,101.6 319.2,105.5 319.2,104.7 319.3,106.7 319.4,109.6 319.5,106.2 319.6,106.2 319.6,105.3 319.7,105.7 319.8,108.4 319.9,112.4 320.0,118.3 320.0,110.1 320.1,108.8 320.2,111.2 320.3,113.8 320.4,120.9 320.4,118.2 320.5,121.4 320.6,119.9 320.7,123.6 320.8,122.5 320.8,122.6 320.9,122.1 321.0,121.8 321.1,116.9 321.2,115.2 321.2,113.8 321.3,111.3 321.4,115.9 321.5,113.6 321.6,116.6 321.6,115.2 321.7,109.7 321.8,109.5 321.9,107.5 322.0,107.1 322.0,110.8 322.1,107.5 322.2,106.8 322.3,105.5 322.4,106.3 322.4,107.5 322.5,109.3 322.6,111.8 322.7,111.1 322.8,109.9 322.8,114.4 322.9,109.4 323.0,111.5 323.1,117.7 323.2,120.0 323.2,120.6 323.3,118.4 323.4,120.8 323.5,120.3 323.6,120.1 323.6,121.3 323.7,122.0 323.8,123.2 323.9,124.6 324.0,127.1 324.0,126.8 324.1,121.1 324.2,126.7 324.3,132.7 324.4,131.9 324.4,129.7 324.5,133.4 324.6,134.7 324.7,134.8 324.8,129.3 324.8,134.6 324.9,133.7 325.0,136.0 325.1,135.4 325.2,134.6 325.2,137.0 325.3,137.1 325.4,137.7 325.5,139.4 325.6,139.8 325.6,141.9 325.7,142.5 325.8,143.7 325.9,142.8 326.0,138.0 326.0,138.1 326.1,135.6 326.2,135.2 326.3,129.2 326.4,128.1 326.4,132.1 326.5,126.8 326.6,128.7 326.7,122.8 326.8,120.4 326.8,119.7 326.9,117.4 327.0,119.2 327.1,115.2 327.4,96.6 327.9,114.7 328.0,117.1 328.0,121.3 328.1,122.0 328.2,127.3 328.3,127.7 328.4,130.4 328.4,127.9 328.5,127.9 328.6,127.4 328.7,128.9 328.8,127.7 328.8,127.4 328.9,128.7 329.0,135.3 329.1,135.2 329.2,133.6 329.2,130.0 329.3,138.2 329.4,137.4 329.5,137.9 329.6,137.6 329.6,132.5 329.7,136.7 329.8,135.8 329.9,134.7 330.0,138.2 330.0,137.3 330.1,135.6 330.2,138.2 330.3,137.3 330.4,137.3 330.4,138.2 330.5,140.4 330.6,140.0 330.7,138.9 330.8,141.2 330.8,138.1 330.9,138.2 331.0,140.4 331.1,139.3 331.2,144.7 331.2,142.8 331.3,150.0 331.4,150.5 331.5,150.0 331.6,150.7 331.6,149.0 331.7,152.6 331.8,150.8 331.9,148.4 332.0,151.3 332.0,151.5 332.1,153.4 332.2,153.4 332.3,152.4 332.4,151.0 332.4,153.4 332.5,147.9 332.6,150.6 332.7,145.8 332.8,142.9 332.8,143.6 332.9,141.6 333.0,142.2 333.1,142.7 333.2,143.5 333.2,135.3 333.3,137.1 333.4,140.8 333.5,139.9 333.6,136.5 333.6,137.7 333.7,137.5 333.8,136.4 333.9,133.7 334.0,135.8 334.0,136.4 334.1,130.4 334.2,127.3 334.3,117.6 334.4,122.5 334.4,121.9 334.5,117.8 334.6,119.6 334.7,114.9 334.8,115.2 335.1,94.7 335.6,112.2 335.6,112.7 335.7,119.5 335.8,116.0 335.9,116.4 336.0,123.4 336.0,119.9 336.1,124.3 336.2,123.5 336.3,122.6 336.4,122.8 336.4,122.0 336.5,119.3 336.6,118.9 336.7,121.8 336.8,116.0 336.8,118.9 336.9,120.9 337.0,119.9 337.1,113.6 337.2,118.5 337.2,110.1 337.3,116.7 337.4,114.5 337.5,109.9 337.6,108.6 337.6,108.7 337.7,107.4 337.8,106.4 337.9,107.4 338.0,111.3 338.0,110.9 338.1,113.0 338.2,110.3 338.3,113.1 338.4,116.7 338.4,116.4 338.5,112.3 338.6,118.2 338.7,129.4 338.8,120.9 338.8,127.1 338.9,122.6 339.0,120.8 339.1,129.1 339.2,126.8 339.2,129.2 339.3,130.5 339.4,129.7 339.5,134.4 339.6,132.7 339.6,133.9 339.7,137.2 339.8,139.4 339.9,140.8 340.0,142.0 340.0,140.3 340.1,145.4 340.2,142.6 340.3,142.1 340.4,145.7 340.4,142.1 340.5,145.3 340.6,147.0 340.7,147.0 340.8,142.9 340.8,145.4 340.9,145.7 341.0,147.3 341.1,145.1 341.2,144.2 341.2,143.2 341.3,138.2 341.4,140.2 341.5,138.1 341.6,135.1 341.6,134.1 341.7,127.3 341.8,130.7 341.9,131.8 342.0,124.1 342.0,122.5 342.1,121.7 342.2,118.1 342.3,116.9 342.4,118.4 342.4,118.4 342.5,122.4 342.6,123.8 342.7,121.3 342.8,125.4 342.8,128.5 342.9,132.5 343.0,129.3 343.1,126.4 343.2,133.1 343.2,131.7 343.3,131.8 343.4,140.5 343.5,139.2 343.6,140.5 343.6,139.9 343.7,142.3 343.8,139.6 343.9,139.0 344.0,138.9 344.0,137.2 344.1,133.1 344.2,136.3 344.3,133.9 344.4,130.3 344.4,138.5 344.5,131.5 344.6,127.8 344.7,125.6 344.8,122.6 344.8,124.0 344.9,122.9 345.0,123.1 345.1,123.9 345.2,122.9 345.2,123.4 345.3,123.5 345.4,122.6 345.5,125.5 345.6,123.2 345.6,125.1 345.7,123.2 345.8,123.0 345.9,122.8 346.0,123.9 346.0,122.7 346.1,125.3 346.2,124.7 346.3,124.1 346.4,123.9 346.4,122.9 346.5,122.6 346.6,123.3 346.7,123.4 346.8,124.0 346.8,123.2 346.9,125.2 347.0,125.1 347.1,120.9 347.2,119.2 347.2,117.8 347.3,116.0 347.4,115.3 347.5,116.9 347.6,120.9 347.6,114.8 347.7,114.7 347.8,115.9 347.9,117.1 348.0,119.1 348.0,113.9 348.1,111.2 348.2,110.5 348.3,110.8 348.4,112.1 348.4,112.8 348.5,112.3 348.6,116.6 348.7,117.7 348.8,117.2 348.8,127.4 348.9,128.2 349.0,127.6 349.1,127.8 349.2,131.1 349.2,132.1 349.3,134.6 349.4,137.2 349.5,136.7 349.6,137.7 349.6,136.2 349.7,137.3 349.8,140.5 349.9,142.7 350.0,146.0 350.0,148.4 350.1,150.3 350.2,147.8 350.3,147.7 350.4,145.0 350.4,143.7 350.5,141.3 350.6,139.4 350.7,142.5 350.8,141.0 350.8,143.2 350.9,137.5 351.0,136.0 351.1,129.1 351.2,131.9 351.2,134.8 351.3,131.3 351.4,122.5 351.5,128.6 351.6,126.4 351.6,121.5 351.7,120.1 351.8,122.9 351.9,122.6 352.0,118.4 352.0,116.1 352.1,115.7 352.2,114.5 352.3,116.5 352.4,114.5 352.4,113.0 352.5,115.5 352.6,115.4 352.7,112.9 352.8,115.2 352.8,118.0 352.9,113.4 353.0,114.9 353.1,113.5 353.2,117.9 353.2,119.7 353.3,115.7 353.4,122.0 353.5,122.2 353.6,121.6 353.6,120.3 353.7,121.3 353.8,120.3 353.9,119.3 354.0,119.5 354.0,119.9 354.1,121.1 354.2,122.3 354.3,121.4 354.4,116.3 354.4,117.6 354.5,114.0 354.6,116.7 354.7,117.8 354.8,113.2 354.8,116.5 354.9,117.7 355.0,113.8 355.1,110.6 355.2,112.3 355.2,114.0 355.3,115.8 355.4,114.9 355.5,114.7 355.6,112.8 355.6,110.8 355.7,110.9 355.8,113.7 355.9,113.3 356.0,112.8 356.0,114.0 356.1,113.3 356.2,116.4 356.3,111.8 356.4,121.5 356.4,117.3 356.5,125.7 356.6,123.8 356.7,124.1 356.8,128.4 356.8,130.4 356.9,129.9 357.0,129.0 357.1,134.1 357.2,131.3 357.2,134.0 357.3,131.6 357.4,134.6 357.5,135.5 357.6,136.4 357.6,135.3 357.7,137.7 357.8,137.1 357.9,139.7 358.0,144.8 358.0,147.7 358.1,147.6 358.2,142.1 358.3,143.4 358.4,140.6 358.4,140.7 358.5,139.9 358.6,142.8 358.7,143.1 358.8,139.7 358.8,146.5 358.9,147.0 359.0,145.9 359.1,147.2 359.2,147.8 359.2,147.3 359.3,145.0 359.4,143.1 359.5,141.7 359.6,144.8 359.6,146.1 359.7,137.0 359.8,135.5 359.9,138.0 360.0,136.9 360.0,135.6 360.1,135.8 360.2,137.3 360.3,137.9 360.4,135.6 360.4,135.4 360.5,135.0 360.6,132.6 360.7,132.6 360.8,131.6 360.8,131.3 360.9,133.7 361.0,131.3 361.1,131.9 361.2,133.1 361.2,133.9 361.3,133.6 361.4,134.9 361.5,133.3 361.6,134.3 361.6,131.8 361.7,132.8 361.8,131.6 361.9,133.0 362.0,131.9 362.0,132.6 362.1,131.9 362.2,134.5 362.3,133.1 362.4,131.5 362.4,135.0 362.5,134.2 362.6,135.0 362.7,136.8 362.8,139.7 362.8,140.1 362.9,133.7 363.0,134.1 363.1,140.3 363.2,147.4 363.2,140.3 363.3,141.4 363.4,145.7 363.5,146.2 363.6,146.6 363.6,146.9 363.7,150.5 363.8,150.5 363.9,153.4 364.0,152.0 364.0,150.0 364.1,149.6 364.2,145.3 364.3,143.6 364.4,146.4 364.4,140.7 364.5,142.6 364.6,142.3 364.7,136.0 364.8,141.4 364.8,141.6 364.9,133.6 365.0,136.6 365.1,132.9 365.2,129.1 365.2,133.2 365.3,125.3 365.4,125.0 365.5,125.3 365.6,123.4 365.6,122.4 365.7,123.4 365.8,125.3 365.9,125.3 366.0,122.3 366.0,118.3 366.1,122.7 366.2,121.4 366.3,121.7 366.4,117.4 366.4,119.8 366.5,115.0 366.6,116.3 366.7,124.5 366.8,124.5 366.8,122.8 366.9,118.3 367.0,115.0 367.1,116.7 367.2,116.2 367.2,117.3 367.3,114.7 367.4,114.6 367.5,114.6 367.6,116.6 367.6,120.1 367.7,117.6 367.8,120.1 367.9,117.4 368.0,118.3 368.0,114.9 368.1,120.8 368.2,120.2 368.3,121.2 368.4,123.6 368.4,119.3 368.5,122.9 368.6,121.8 368.7,123.8 368.8,122.4 368.8,123.2 368.9,121.8 369.0,123.9 369.1,125.7 369.2,126.1 369.2,128.3 369.3,128.1 369.4,127.7 369.5,134.2 369.6,130.0 369.6,130.2 369.7,135.6 369.8,132.2 369.9,133.8 370.0,132.0 370.0,133.5 370.1,135.5 370.2,136.2 370.3,138.8 370.4,142.4 370.4,141.0 370.5,142.6 370.6,143.3 370.7,144.6 370.8,145.1 370.8,145.5 370.9,148.3 371.0,148.9 371.1,149.5 371.2,150.9 371.2,148.3 371.3,152.6 371.4,146.2 371.5,155.2 371.6,151.6 371.6,156.1 371.7,155.1 371.8,155.0 371.9,157.1 372.0,155.7 372.0,155.1 372.1,153.4 372.2,151.7 372.3,149.8 372.4,151.4 372.4,154.9 372.5,157.3 372.6,150.2 372.7,147.2 372.8,145.2 372.8,146.0 372.9,146.1 373.0,142.2 373.1,144.9 373.2,141.2 373.2,145.5 373.3,137.0 373.4,140.7 373.5,139.2 373.6,136.6 373.6,138.1 373.7,138.3 373.8,136.7 373.9,136.6 374.0,136.5 374.0,136.4 374.1,134.8 374.2,136.1 374.3,132.2 374.4,136.5 374.4,136.0 374.5,134.9 374.6,132.7 374.7,132.4 374.8,135.7 374.8,135.3 374.9,134.2 375.0,134.4 375.1,134.9 375.2,136.2 375.2,132.7 375.3,132.8 375.4,132.1 375.5,132.7 375.6,133.3 375.6,135.3 375.7,134.8 375.8,135.1 375.9,134.3 376.0,133.1 376.0,133.0 376.1,133.8 376.2,133.0 376.3,132.8 376.4,133.4 376.4,132.7 376.5,128.3 376.6,128.3 376.7,128.0 376.8,127.9 376.8,122.9 376.9,126.5 377.0,126.9 377.1,132.4 377.2,126.7 377.2,129.6 377.3,127.2 377.4,126.0 377.5,127.9 377.6,124.4 377.6,121.9 377.7,122.6 377.8,122.9 377.9,123.5 378.0,125.1 378.0,124.4 378.1,126.4 378.2,128.2 378.3,127.5 378.4,123.6 378.4,130.4 378.5,132.8 378.6,131.9 378.7,128.9 378.8,128.4 378.8,133.2 378.9,136.8 379.0,137.7 379.1,141.5 379.2,140.0 379.2,138.8 379.3,139.0 379.4,140.8 379.5,141.1 379.6,142.8 379.6,143.1 379.7,145.8 379.8,149.4 379.9,146.1 380.0,144.6 380.0,148.2 380.1,146.8 380.2,143.0 380.3,143.5 380.4,147.1 380.4,155.0 380.5,151.2 380.6,152.2 380.7,155.4 380.8,154.4 380.8,154.5 380.9,156.9 381.0,156.2 381.1,157.1 381.2,155.9 381.2,155.2 381.3,155.7 381.4,152.7 381.5,147.7 381.6,146.3 381.7,148.8 381.7,143.2 381.8,145.7 381.9,144.9 382.0,145.2 382.1,143.3 382.2,143.5 382.2,144.3 382.3,141.3 382.4,139.8 382.5,139.4 382.6,136.9 382.6,139.1 382.7,135.1 382.8,137.2 382.9,135.2 383.0,127.9 383.0,135.2 383.1,137.5 383.2,132.2 383.3,132.7 383.4,130.1 383.4,128.8 383.5,128.0 383.6,127.8 383.7,124.7 383.8,125.3 383.8,124.8 383.9,124.8 384.0,123.8 384.1,121.4 384.2,120.0 384.2,113.2 384.3,115.2 384.4,113.3 384.5,122.0 384.6,113.3 384.6,116.5 384.7,116.6 384.8,114.7 384.9,116.4 385.0,114.1 385.0,113.1 385.1,114.5 385.2,115.4 385.3,117.0 385.4,121.7 385.4,115.5 385.5,113.6 385.6,117.0 385.7,115.9 385.8,121.8 385.8,122.3 385.9,120.4 386.0,118.5 386.1,121.9 386.2,121.8 386.2,121.9 386.3,121.1 386.4,122.3 386.5,122.3 386.6,123.2 386.6,122.1 386.7,125.1 386.8,125.8 386.9,126.6 387.0,127.0 387.0,128.9 387.1,129.0 387.2,129.9 387.3,129.5 387.4,129.6 387.4,129.4 387.5,134.2 387.6,136.2 387.7,135.8 387.8,133.7 387.8,134.8 387.9,132.6 388.0,130.9 388.1,134.0 388.2,136.2 388.2,127.7 388.3,131.8 388.4,123.7 388.5,122.1 388.6,128.5 388.6,125.6 388.7,126.4 388.8,127.1 388.9,123.0 389.0,122.7 389.0,118.1 389.1,117.1 389.2,117.8 389.3,115.7 389.4,113.1 389.4,112.3 389.5,111.8 389.6,109.4 389.7,109.9 389.8,110.7 389.8,112.8 389.9,114.1 390.0,111.7 390.1,108.5 390.2,112.5 390.2,106.3 390.3,110.0 390.4,105.7 390.5,108.5 390.6,110.1 390.6,107.3 390.7,108.8 390.8,106.5 390.9,104.9 391.0,106.2 391.0,103.3 391.1,106.1 391.2,104.8 391.3,104.0 391.4,102.7 391.4,102.6 391.5,103.0 391.6,106.1 391.7,104.6 391.8,102.6 391.8,102.5 391.9,104.4 392.0,101.8 392.1,105.3 392.2,106.3 392.2,105.6 392.3,104.6 392.4,104.8 392.5,107.7 392.6,116.1 392.6,117.3 392.7,110.6 392.8,109.3 392.9,108.0 393.0,112.6 393.0,112.3 393.1,109.4 393.2,112.6 393.3,113.3 393.4,117.3 393.4,116.4 393.5,117.4 393.6,117.0 393.7,116.1 393.8,116.4 393.8,116.9 393.9,117.6 394.0,118.8 394.1,125.5 394.2,123.6 394.2,126.9 394.3,126.9 394.4,130.8 394.5,125.6 394.6,129.1 394.6,127.3 394.7,119.9 394.8,130.9 394.9,125.3 395.0,128.3 395.0,128.1 395.1,132.0 395.2,133.2 395.3,138.2 395.4,135.1 395.4,137.0 395.5,138.1 395.6,136.7 395.7,136.5 395.8,133.0 395.8,128.8 395.9,130.7 396.0,125.8 396.1,127.2 396.2,124.6 396.2,122.7 396.3,123.1 396.4,118.5 396.5,114.7 396.6,117.4 396.6,111.1 396.7,109.9 396.8,109.8 396.9,111.3 397.0,111.7 397.0,114.5 397.1,114.5 397.2,113.0 397.3,118.7 397.4,119.2 397.4,111.2 397.5,116.1 397.6,126.7 397.7,122.0 397.8,115.4 397.8,121.1 397.9,123.8 398.0,123.6 398.1,124.3 398.2,127.0 398.2,123.3 398.3,128.1 398.4,128.7 398.5,128.6 398.6,128.2 398.6,124.3 398.7,127.4 398.8,126.2 398.9,126.1 399.0,123.9 399.0,121.4 399.1,125.8 399.2,116.2 399.3,121.5 399.4,124.8 399.4,120.3 399.5,117.1 399.6,117.0 399.7,118.6 399.8,118.4 399.8,118.7 399.9,117.2 400.0,117.4 400.1,117.1 400.2,116.3 400.2,116.4 400.3,117.1 400.4,116.1 400.5,116.3 400.6,116.7 400.6,118.1 400.7,120.5 400.8,119.9 400.9,118.2 401.0,116.9 401.0,116.9 401.1,118.1 401.2,120.4 401.3,120.3 401.4,120.4 401.4,120.6 401.5,118.7 401.6,119.7 401.7,119.5 401.8,118.5 401.8,118.0 401.9,115.3 402.0,116.8 402.1,117.1 402.2,118.0 402.2,112.9 402.3,116.1 402.4,112.1 402.5,112.4 402.6,112.2 402.6,102.6 402.7,108.2 402.8,106.4 402.9,110.7 403.0,108.4 403.0,108.8 403.1,108.2 403.2,108.1 403.3,105.0 403.4,104.9 403.4,103.8 403.5,103.8 403.6,100.3 403.7,100.8 404.8,71.2 405.6,88.0 406.4,49.3 407.0,103.5 407.1,104.4 407.2,103.9 407.3,104.9 407.4,111.0 407.4,105.6 407.5,111.7 407.6,107.1 407.7,111.3 407.8,112.1 407.8,111.5 407.9,109.8 408.0,111.5 408.1,111.5 408.2,113.0 408.2,116.6 408.3,115.9 408.4,116.7 408.5,115.9 408.6,121.0 408.6,124.1 408.7,120.9 408.8,125.1 408.9,126.4 409.0,127.2 409.0,127.6 409.1,127.9 409.2,129.0 409.3,133.6 409.4,131.8 409.4,130.9 409.5,131.4 409.6,130.9 409.7,130.3 409.8,138.7 409.8,135.1 409.9,139.0 410.0,138.0 410.1,139.7 410.2,138.5 410.2,140.4 410.3,140.7 410.4,140.7 410.5,141.1 410.6,137.9 410.6,136.8 410.7,136.7 410.8,132.5 410.9,131.7 411.0,130.7 411.0,128.5 411.1,130.3 411.2,129.6 411.3,133.0 411.4,125.2 411.4,125.4 411.5,124.4 411.6,117.4 411.7,119.0 411.8,115.7 411.8,115.7 411.9,114.5 412.0,114.2 412.1,114.0 412.2,112.3 412.2,109.2 412.3,110.2 412.4,113.1 412.5,108.1 412.6,106.0 412.6,114.2 412.7,112.0 412.8,108.9 412.9,109.9 413.0,107.3 413.0,107.3 413.1,104.4 413.2,105.2 413.3,105.0 413.4,106.8 413.4,108.4 413.5,109.2 413.6,107.0 413.7,111.0 413.8,113.8 413.8,112.4 413.9,114.2 414.0,113.4 414.1,113.9 414.2,119.8 414.2,117.6 414.3,117.4 414.4,119.3 414.5,120.1 414.6,119.9 414.6,120.9 414.7,119.5 414.8,120.2 414.9,120.3 415.0,120.1 415.0,121.0 415.1,122.8 415.2,120.4 415.3,123.7 415.4,120.2 415.4,120.1 415.5,120.0 415.6,120.8 415.7,122.5 415.8,123.2 415.8,123.9 415.9,121.5 416.0,123.7 416.1,124.8 416.2,125.4 416.2,128.3 416.3,125.5 416.4,126.3 416.5,125.4 416.6,134.2 416.6,122.7 416.7,131.3 416.8,130.8 416.9,136.7 417.0,135.9 417.0,136.4 417.1,131.3 417.2,135.9 417.3,134.7 417.4,137.1 417.4,137.7 417.5,137.8 417.6,137.2 417.7,135.6 417.8,136.7 417.8,132.9 417.9,136.3 418.0,138.3 418.1,137.2 418.2,129.8 418.2,137.3 418.3,134.1 418.4,135.5 418.5,128.9 418.6,127.4 418.6,131.9 418.7,128.8 418.8,127.9 418.9,128.8 419.0,128.5 419.0,127.3 419.1,128.8 419.2,127.5 419.3,126.8 419.4,126.9 419.4,126.4 419.5,127.0 419.6,125.7 419.7,127.2 419.8,122.9 419.8,121.7 419.9,122.8 420.0,119.3 420.1,121.2 420.2,119.4 420.2,114.6 420.3,119.7 420.4,121.1 420.5,117.5 420.6,118.4 420.6,116.5 420.7,114.9 420.8,114.1 420.9,112.6 421.0,114.2 421.0,115.0 421.1,113.9 421.2,114.1 421.3,111.5 421.4,115.8 421.4,113.4 421.5,106.9 421.6,110.6 421.7,111.2 421.8,109.1 421.8,107.4 421.9,108.8 422.0,105.9 422.1,109.2 422.2,103.9 422.2,102.7 422.3,104.7 422.4,104.6 422.5,106.3 422.6,103.7 422.6,104.2 422.7,103.5 422.8,102.6 422.9,103.7 423.0,109.0 423.0,110.7 423.1,111.5 423.2,107.0 423.3,110.3 423.4,114.4 423.4,116.2 423.5,117.4 423.6,119.7 423.7,109.5 423.8,115.4 423.8,117.2 423.9,120.1 424.0,120.4 424.1,118.2 424.2,118.3 424.2,117.9 424.3,118.2 424.4,115.7 424.5,119.1 424.6,115.5 424.6,116.7 424.7,114.6 424.8,114.0 424.9,111.9 425.0,115.3 425.0,112.5 425.1,110.6 425.2,104.9 425.3,110.9 425.4,102.5 425.4,109.5 425.5,104.4 425.6,105.2 425.7,106.0 425.8,103.8 425.8,106.8 425.9,105.6 426.0,104.1 426.1,103.5 426.2,105.4 426.2,109.9 426.3,110.7 426.4,110.1 426.5,112.7 426.6,122.4 426.6,115.8 426.7,119.3 426.8,124.8 426.9,129.0 427.0,132.6 427.0,132.4 427.1,133.4 427.2,134.4 427.3,132.4 427.4,135.1 427.4,134.9 427.5,134.8 427.6,134.4 427.7,132.2 427.8,134.8 427.8,133.6 427.9,133.6 428.0,132.4 428.1,128.4 428.2,127.4 428.2,124.3 428.3,124.5 428.4,125.7 428.5,124.3 428.6,124.4 428.6,124.6 428.7,125.8 428.8,124.6 428.9,126.0 429.0,124.2 429.0,127.8 429.1,129.1 429.2,124.8 429.3,126.3 429.4,132.5 429.4,128.1 429.5,132.9 429.6,137.6 429.7,130.9 429.8,127.9 429.8,131.9 429.9,134.2 430.0,134.4 430.1,136.6 430.2,127.6 430.2,134.4 430.3,130.8 430.4,136.9 430.5,134.3 430.6,135.0 430.6,141.6 430.7,138.0 430.8,141.6 430.9,141.1 431.0,143.8 431.0,143.3 431.1,142.5 431.2,142.7 431.3,143.0 431.4,140.7 431.4,138.2 431.5,139.6 431.6,136.0 431.7,136.7 431.8,132.0 431.8,133.1 431.9,129.0 432.0,132.6 432.1,127.2 432.2,125.1 432.2,129.5 432.3,123.2 432.4,118.8 432.5,118.2 432.6,114.0 432.6,116.8 432.7,115.0 432.8,114.2 432.9,114.0 433.0,117.0 433.0,119.2 433.1,115.6 433.2,117.4 433.3,119.0 433.4,116.2 433.4,119.7 433.5,121.3 433.6,123.2 433.7,120.6 433.8,121.9 433.8,118.4 433.9,123.4 434.0,125.4 434.1,125.0 434.2,122.6 434.2,125.3 434.3,120.8 434.4,121.5 434.5,119.7 434.6,119.3 434.6,118.0 434.7,115.5 434.8,120.3 434.9,120.9 435.0,113.9 435.0,114.0 435.1,114.4 435.2,113.7 435.3,117.7 435.4,121.2 435.4,122.8 435.5,128.9 435.6,125.7 435.7,128.8 435.8,131.5 435.8,136.5 435.9,133.3 436.0,136.0 436.1,135.0 436.2,134.5 436.2,133.6 436.3,128.8 436.4,128.2 436.5,130.3 436.6,129.6 436.6,125.5 436.7,121.0 436.8,124.2 436.9,122.1 437.0,127.2 437.0,120.6 437.1,118.7 437.2,116.0 437.3,114.6 437.4,116.9 437.4,115.1 437.5,123.6 437.6,119.1 437.7,126.5 437.8,134.3 437.8,132.5 437.9,135.5 438.0,133.2 438.1,134.2 438.2,133.1 438.2,130.0 438.3,129.9 438.4,127.0 438.5,124.9 438.6,122.5 438.6,122.0 438.7,122.4 438.8,123.9 438.9,115.2 439.0,125.4 439.0,114.0 439.1,115.1 439.2,115.9 439.3,114.2 439.4,111.1 439.4,108.9 439.5,106.7 439.6,107.5 439.7,108.7 439.8,109.5 439.8,109.0 439.9,113.8 440.0,117.6 440.1,120.8 440.2,115.9 440.2,112.2 440.3,114.6 440.4,117.2 440.5,119.3 440.6,118.2 440.6,119.0 440.7,120.3 440.8,121.7 440.9,121.7 441.0,122.2 441.0,122.1 441.1,118.1 441.2,113.9 441.3,115.2 441.4,116.7 441.4,112.2 441.5,112.6 441.6,111.8 441.7,116.3 441.8,119.2 441.8,118.9 441.9,123.5 442.0,120.7 442.1,130.1 442.2,132.6 442.2,132.5 442.3,140.4 442.4,142.1 442.5,141.9 442.6,140.2 442.6,137.9 442.7,135.4 442.8,138.5 442.9,133.6 443.0,129.8 443.0,128.7 443.1,121.1 443.2,125.0 443.3,117.0 443.4,120.7 443.4,120.1 443.5,114.2 443.6,113.7 443.7,111.5 443.8,112.1 443.8,113.0 443.9,111.2 444.0,110.8 444.1,112.7 444.2,112.9 444.2,120.5 444.3,119.6 444.4,119.9 444.5,118.6 444.6,120.6 444.6,120.2 444.7,120.5 444.8,119.7 444.9,122.9 445.0,122.5 445.0,122.1 445.1,125.9 445.2,123.0 445.3,125.6 445.4,130.7 445.4,126.2 445.5,128.2 445.6,136.3 445.7,135.1 445.8,136.7 445.8,136.4 445.9,136.1 446.0,136.5 446.1,133.9 446.2,135.7 446.2,128.1 446.3,131.2 446.4,129.1 446.5,129.8 446.6,127.2 446.6,125.4 446.7,123.4 446.8,118.9 446.9,114.6 447.0,119.5 447.0,120.2 447.1,121.4 447.2,117.3 447.3,118.5 447.4,112.9 447.4,113.0 447.5,112.3 447.6,115.6 447.7,115.8 447.8,115.6 447.8,114.0 447.9,118.0 448.0,121.1 448.1,124.6 448.2,124.9 448.2,125.0 448.3,121.8 448.4,125.9 448.5,127.4 448.6,126.6 448.6,125.6 448.7,127.5 448.8,128.6 448.9,134.5 449.0,135.6 449.0,138.7 449.1,141.7 449.2,147.5 449.3,153.3 449.4,153.6 449.4,156.1 449.5,158.4 449.6,160.4 449.7,167.5 449.8,172.4 449.8,176.6 449.9,170.4 450.0,188.6 450.1,188.2 450.2,194.8 450.2,197.7 450.3,200.3 450.4,204.8 450.5,205.0 450.6,211.0 450.6,215.3 450.7,215.5 450.8,222.0 450.9,224.3 451.0,223.9 451.0,224.2 451.1,227.6 451.2,228.8 451.3,228.4 451.4,224.0 451.4,228.4 451.5,225.5 451.6,227.3 451.7,228.8 451.8,225.8 451.8,226.5 451.9,229.0 452.0,231.6 452.1,230.7 452.2,231.7 452.2,231.1 452.3,229.7 452.4,227.8 452.5,229.5 452.6,231.5 452.6,231.6 452.7,227.2 452.8,227.3 452.9,228.1 453.0,228.6 453.0,230.9 453.1,231.6 453.2,236.5 453.3,238.9 453.4,234.5 453.4,237.0 453.5,236.0 453.6,239.3 453.7,236.3 453.8,235.3 453.8,238.1 453.9,238.1 454.0,237.1 454.1,235.2 454.2,235.6 454.2,237.5 454.3,236.3 454.4,238.8 454.5,239.7 454.6,238.6 454.6,236.6 454.7,235.2 454.8,238.5 454.9,235.2 455.0,240.1 455.0,235.8 455.1,242.7 455.2,245.3 455.3,246.6 455.4,247.4 455.4,250.5 455.5,250.2 455.6,250.7 455.7,250.1 455.8,248.9 455.8,250.7 455.9,246.8 456.0,248.0 456.1,248.1 456.2,245.2 456.2,247.9 456.3,243.3 456.4,243.7 456.5,242.9 456.6,242.3 456.6,243.2 456.7,242.1 456.8,242.6 456.9,241.6 457.0,244.9 457.0,243.7 457.1,246.2 457.2,242.3 457.3,241.8 457.4,241.7 457.4,247.6 457.5,247.7 457.6,244.7 457.7,246.0 457.8,245.1 457.8,245.9 457.9,246.8 458.0,245.7 458.1,245.2 458.2,240.8 458.2,237.5 458.3,245.6 458.4,239.7 458.5,238.0 458.6,241.2 458.6,241.6 458.7,236.4 458.8,233.3 458.9,232.0 459.0,236.3 459.0,234.5 459.1,231.8 459.2,241.7 459.3,247.2 459.4,248.7 459.4,249.2 459.5,251.0 467.5,187.2 468.5,223.4 468.6,226.5 468.6,230.4 468.7,235.8 468.8,237.2 468.9,240.8 469.0,240.1 469.0,242.8 469.1,244.6 469.2,248.4 469.3,253.6 469.4,258.8 469.4,264.4 469.5,265.4 469.6,269.7 469.7,269.6 469.8,264.6 469.8,261.3 469.9,261.3 470.0,264.3 470.1,260.0 470.2,255.6 470.2,255.1 470.3,252.4 470.4,254.3 470.5,252.3 470.6,251.0 470.6,247.5 470.7,246.7 470.8,250.5 470.9,251.4 471.0,250.8 471.0,248.8 471.1,250.7 471.2,256.9 471.3,261.5 471.4,263.5 471.4,260.9 471.5,260.8 471.6,256.3 471.7,264.5 471.8,262.7 471.8,264.8 471.9,266.2 472.0,267.8 472.1,267.4 472.2,268.4 472.2,265.9 472.3,268.2 472.4,264.5 472.5,261.5 472.6,263.2 472.6,264.1 472.7,263.8 472.8,260.0 472.9,257.3 473.0,255.8 473.0,257.0 473.1,254.8 473.2,254.1 473.3,254.0 473.4,253.5 473.4,253.2 473.5,252.2 473.6,253.8 473.7,245.5 473.8,249.4 473.8,254.0 473.9,243.2 474.0,244.1 474.1,250.4 474.2,246.6 474.2,246.6 474.3,243.2 474.4,242.1 474.5,240.9 474.6,239.8 474.6,239.9 474.7,237.9 474.8,240.6 474.9,231.5 475.0,233.3 475.0,230.8 475.1,233.0 475.2,227.2 475.3,227.3 475.4,227.6 475.4,225.3 475.5,225.2 475.6,226.7 475.7,225.9 475.8,230.4 475.8,225.1 475.9,228.7 476.0,227.1 476.1,231.6 476.2,236.9 476.2,239.4 476.3,236.2 476.4,235.1 476.5,233.3 476.6,232.4 476.6,239.7 476.7,241.2 476.8,240.0 476.9,240.6 477.0,244.2 477.0,243.8 477.1,242.3 477.2,241.4 477.3,249.6 477.4,255.4 477.4,251.6 477.5,246.8 477.6,255.8 477.7,256.3 477.8,253.6 477.8,253.2 477.9,255.5 478.0,258.9 478.1,259.6 478.2,257.5 478.2,255.9 478.3,250.2 478.4,247.7 478.5,250.6 478.6,247.9 478.6,243.0 478.7,234.3 478.8,232.2 478.9,231.5 479.0,234.6 479.0,233.2 479.1,231.9 479.2,227.2 479.3,227.3 479.4,227.2 479.4,231.1 479.5,232.1 479.6,230.3 479.7,232.8 479.8,235.2 479.8,236.3 479.9,232.9 480.0,240.1 480.1,239.1 480.2,239.7 480.2,239.5 480.3,243.4 480.4,241.7 480.5,239.1 480.6,243.8 480.6,235.3 480.7,237.0 480.8,232.7 480.9,234.6 481.0,228.9 481.0,228.9 481.1,228.2 481.2,225.0 481.3,224.0 482.1,192.0 482.9,223.5 483.0,229.0 483.0,240.9 483.1,243.0 483.2,247.2 483.3,252.3 483.4,259.4 483.4,264.3 483.5,271.8 483.6,271.6 483.7,271.9 483.8,272.3 483.8,271.9 483.9,272.2 484.0,271.4 484.1,272.2 484.2,265.6 484.2,271.0 484.3,268.0 484.4,261.7 484.5,263.4 484.6,264.4 484.6,262.6 484.7,260.7 484.8,262.0 484.9,261.9 485.0,260.8 485.0,261.0 485.1,261.9 485.2,262.2 485.3,266.2 485.4,265.0 485.4,266.8 485.5,261.1 485.6,263.9 485.7,261.5 485.8,266.7 485.8,266.6 485.9,266.2 486.0,266.9 486.1,266.2 486.2,263.8 486.2,262.1 486.3,258.2 486.4,254.5 486.5,245.7 486.6,251.7 486.6,244.2 486.7,243.6 486.8,243.2 486.9,238.4 487.0,239.2 487.0,231.7 487.1,232.7 487.2,230.6 487.3,230.7 487.4,231.8 487.4,233.8 487.5,229.8 487.6,235.5 487.7,242.0 487.8,239.0 487.8,244.5 487.9,243.0 488.0,242.2 488.1,250.0 488.2,251.0 488.2,255.0 488.3,255.5 488.4,255.5 488.5,253.1 488.6,251.4 488.6,251.1 488.7,252.5 488.8,255.3 488.9,251.8 489.0,255.5 489.0,249.0 489.1,249.5 489.2,247.1 489.3,248.5 489.4,246.8 489.4,248.3 489.5,246.4 489.6,243.7 489.7,243.3 489.8,245.9 489.8,247.1 489.9,244.6 490.0,248.3 490.1,252.6 490.2,251.7 490.2,252.9 490.3,249.8 490.4,256.6 490.5,258.0 490.6,255.9 490.6,258.6 490.7,263.1 490.8,258.7 490.9,259.6 491.0,259.9 491.0,262.2 491.1,262.1 491.2,263.7 491.3,262.2 491.4,258.5 491.4,259.2 491.5,260.8 491.6,262.9 491.7,260.9 491.8,262.3 491.8,261.7 491.9,259.0 492.0,249.1 492.1,252.8 492.2,252.1 492.2,251.2 492.3,258.5 492.4,250.0 492.5,249.1 492.6,246.3 492.6,249.0 492.7,250.2 492.8,248.8 492.9,246.4 493.0,247.0 493.0,246.3 493.1,246.4 493.2,250.5 493.3,249.8 493.4,249.4 493.4,246.3 493.5,253.9 493.6,253.7 493.7,250.9 493.8,253.1 493.8,247.7 493.9,253.8 494.0,253.6 494.1,253.7 494.2,252.3 494.2,253.8 494.3,253.0 494.4,255.0 494.5,253.0 494.6,252.1 494.6,250.8 494.7,250.6 494.8,255.4 494.9,248.1 495.0,247.7 495.0,238.7 495.1,235.0 495.2,238.0 495.3,242.1 495.4,243.4 495.4,235.2 495.5,235.7 495.6,235.2 495.7,234.7 495.8,235.6 495.8,236.8 495.9,238.3 496.0,236.9 496.1,244.0 496.2,244.0 496.2,244.8 496.3,245.0 496.4,240.9 496.5,247.1 496.6,251.1 496.6,247.3 496.7,246.3 496.8,252.4 496.9,248.3 497.0,250.4 497.0,254.2 497.1,255.1 497.2,255.5 497.3,258.7 497.4,258.3 497.4,257.8 497.5,256.7 497.6,257.3 497.7,256.6 497.8,254.4 497.8,254.3 497.9,258.9 498.0,251.9 498.1,251.5 498.2,255.9 498.2,253.6 498.3,252.9 498.4,251.5 498.5,254.8 498.6,256.4 498.6,254.0 498.7,254.8 498.8,254.5 498.9,253.6 499.0,254.1 499.0,257.1 499.1,258.9 499.2,262.7 499.3,261.3 499.4,261.0 499.4,263.7 499.5,265.9 499.6,265.1 499.7,264.0 499.8,263.6 499.8,257.9 499.9,255.7 500.0,258.1 500.1,256.4 500.2,255.0 500.2,253.2 500.3,250.5 500.4,248.8 500.5,250.6 500.6,251.7 500.6,250.4 500.7,247.1 500.8,246.5 500.9,246.7 501.0,246.5 501.0,248.7 501.1,250.5 501.2,246.8 501.3,248.4 501.4,251.5 501.4,251.2 501.5,256.1 501.6,253.6 501.7,252.5 501.8,259.3 501.8,254.6 501.9,258.6 502.0,255.6 502.1,260.0 502.2,259.8 502.2,261.5 502.3,261.5 502.4,261.5 502.5,261.2 502.6,259.6 502.6,258.7 502.7,256.4 502.8,253.1 502.9,250.5 503.0,254.1 503.0,256.4 503.1,251.2 503.2,248.0 503.3,248.2 503.4,247.2 503.4,251.8 503.5,253.3 503.6,244.0 503.7,246.3 503.8,240.7 503.8,242.8 503.9,241.6 504.0,240.7 504.1,240.0 504.2,240.5 504.2,241.1 504.3,240.1 504.4,244.6 504.5,248.4 504.6,246.1 504.6,252.0 504.7,255.4 504.8,256.2 504.9,249.0 505.0,248.6 505.0,252.9 505.1,255.5 505.2,255.3 505.3,257.6 505.4,256.4 505.4,255.7 505.5,254.3 505.6,253.0 505.7,252.1 505.8,256.4 505.8,253.7 505.9,249.9 506.0,247.7 506.1,253.2 506.2,247.6 506.2,242.2 506.3,244.5 506.4,245.4 506.5,244.4 506.6,248.4 506.6,242.7 506.7,242.3 506.8,241.6 506.9,241.8 507.0,244.3 507.0,245.5 507.1,249.3 507.2,246.1 507.3,247.1 507.4,250.3 507.4,257.7 507.5,253.2 507.6,254.8 507.7,258.8 507.8,258.2 507.8,256.8 507.9,262.0 508.0,263.0 508.1,263.6 508.2,260.7 508.2,262.9 508.3,262.3 508.4,263.1 508.5,261.0 508.6,258.5 508.6,260.2 508.7,260.0 508.8,256.2 508.9,256.4 509.0,254.6 509.0,249.9 509.1,247.8 509.2,248.2 509.3,250.5 509.4,250.0 509.4,248.8 509.5,248.5 509.6,247.7 509.7,253.6 509.8,247.3 509.8,247.2 509.9,241.9 510.0,241.9 510.1,242.3 510.2,241.4 510.2,242.8 510.3,240.8 510.4,240.6 510.5,239.4 510.6,241.5 510.6,242.3 510.7,251.1 510.8,246.9 510.9,246.2 511.0,246.3 511.0,246.5 511.1,248.0 511.2,250.0 511.3,252.7 511.4,253.2 511.4,257.8 511.5,256.0 511.6,257.2 511.7,258.5 511.8,255.5 511.8,257.3 511.9,261.2 512.0,262.6 512.1,261.1 512.2,261.2 512.2,261.5 512.3,264.7 512.4,262.1 512.5,263.7 512.6,265.4 512.6,262.3 512.7,263.7 512.8,263.0 512.9,266.5 513.0,266.5 513.0,267.0 513.1,268.1 513.2,266.9 513.3,268.3 513.4,270.3 513.4,271.6 513.5,271.7 513.6,270.5 513.7,269.6 513.8,266.0 513.8,269.8 513.9,263.6 514.0,264.7 514.1,266.7 514.2,265.2 514.2,264.1 514.3,261.0 514.4,260.9 514.5,262.0 514.6,255.2 514.6,257.5 514.7,259.2 514.8,259.7 514.9,258.4 515.0,255.7 515.0,253.9 515.1,252.9 515.2,253.9 515.3,252.1 515.4,252.1 515.4,252.6 515.5,251.9 515.6,250.0 515.7,253.9 515.8,253.1 515.8,249.9 515.9,252.2 516.0,249.9 516.1,253.6 516.2,248.2 516.2,252.9 516.3,251.2 516.4,250.4 516.5,246.9 516.6,251.1 516.6,249.0 516.7,248.8 516.8,247.7 516.9,247.1 517.0,247.6 517.0,247.6 517.1,241.5 517.2,237.7 517.3,245.4 517.4,237.8 517.4,244.9 517.5,242.1 517.6,241.0 517.7,237.4 517.8,234.6 517.8,234.6 517.9,227.8 518.0,231.0 518.1,228.8 518.2,225.6 518.2,229.0 518.3,226.5 518.4,226.9 518.5,226.4 518.6,228.2 518.6,230.1 518.7,229.9 518.8,234.9 518.9,232.0 519.0,229.9 519.0,233.4 519.1,235.9 519.2,235.4 519.3,234.3 519.4,239.6 519.4,237.9 519.5,238.0 519.6,236.6 519.7,238.6 519.8,235.2 519.8,234.0 519.9,235.3 520.0,230.2 520.1,233.1 520.2,231.3 520.2,230.5 520.3,230.3 520.4,235.9 520.5,236.2 520.6,230.8 520.6,231.4 520.7,231.3 520.8,230.1 520.9,231.3 521.0,230.1 521.0,231.7 521.1,232.7 521.2,238.3 521.3,238.5 521.4,241.9 521.4,240.8 521.5,240.9 521.6,240.5 521.7,243.9 521.8,242.6 521.8,244.2 521.9,245.7 522.0,243.5 522.1,242.1 522.2,240.5 522.2,241.3 522.3,237.3 522.4,237.0 522.5,240.1 522.6,239.3 522.6,242.0 522.7,228.2 522.8,231.1 522.9,230.6 523.0,231.2 523.0,226.7 523.1,226.6 523.2,223.9 523.3,224.1 523.4,224.2 523.4,227.6 523.5,227.0 523.6,224.3 523.7,227.2 523.8,229.7 523.8,230.4 523.9,229.4 524.0,229.0 524.1,234.3 524.2,236.4 524.2,232.3 524.3,239.6 524.4,239.7 524.5,241.2 524.6,242.4 524.6,242.0 524.7,241.6 524.8,244.5 524.9,244.2 525.0,243.0 525.0,242.7 525.1,243.9 525.2,242.7 525.3,243.9 525.4,242.7 525.4,244.1 525.5,242.5 525.6,241.0 525.7,242.7 525.8,236.1 525.8,237.5 525.9,237.4 526.0,238.3 526.1,237.5 526.2,237.3 526.2,236.3 526.3,235.6 526.4,234.6 526.5,236.0 526.6,237.2 526.6,242.0 526.7,241.6 526.8,236.1 526.9,239.4 527.0,237.8 527.0,242.1 527.1,245.5 527.2,242.3 527.3,248.5 527.4,247.2 527.4,247.5 527.5,249.3 527.6,252.6 527.7,254.2 527.8,251.7 527.8,251.1 527.9,250.3 528.0,249.0 528.1,248.0 528.2,250.1 528.2,246.1 528.3,246.5 528.4,244.9 528.5,243.7 528.6,245.2 528.6,243.6 528.7,240.2 528.8,234.3 528.9,234.0 529.0,231.6 529.0,233.0 529.1,233.3 529.2,228.8 529.3,227.9 529.4,229.5 529.4,229.8 529.5,228.1 529.6,225.0 529.7,230.1 529.8,227.8 529.8,225.6 529.9,229.1 530.0,225.5 530.1,224.7 530.2,225.6 530.2,227.1 530.3,226.4 530.4,225.0 530.5,225.9 530.6,229.6 530.6,225.5 530.7,229.1 530.8,228.4 530.9,227.5 531.0,227.6 531.0,224.8 531.1,225.6 531.2,226.6 531.3,224.9 531.4,226.3 531.4,226.8 531.5,226.4 531.6,226.1 531.7,228.7 531.8,231.0 531.8,231.9 531.9,233.2 532.0,235.5 532.1,233.5 532.2,236.8 532.2,239.6 532.3,236.0 532.4,238.9 532.5,239.0 532.6,235.8 532.6,236.6 532.7,236.3 532.8,235.2 532.9,236.1 533.0,230.8 533.0,234.3 533.1,230.6 533.2,225.7 533.3,223.6 533.4,230.4 533.4,225.4 533.5,222.2 533.6,221.1 533.7,222.4 533.8,229.2 533.8,226.6 533.9,232.7 534.0,233.1 534.1,241.7 534.2,239.4 534.2,242.2 534.3,243.6 534.4,243.9 534.5,248.4 534.6,248.1 534.6,251.5 534.7,253.8 534.8,252.4 534.9,248.8 535.0,251.0 535.0,243.0 535.1,244.9 535.2,247.3 535.3,236.7 535.4,237.3 535.4,245.5 535.5,239.1 535.6,232.2 535.7,229.1 535.8,227.7 535.8,228.4 535.9,225.9 536.0,224.0 537.3,189.6 538.4,224.4 538.5,227.3 538.6,226.4 538.6,234.4 538.7,239.9 538.8,243.5 538.9,242.7 539.0,242.8 539.0,249.0 539.1,249.3 539.2,256.4 539.3,257.0 539.4,261.3 539.4,263.3 539.5,266.7 539.6,267.4 539.7,266.2 539.8,264.5 539.8,260.2 539.9,261.6 540.0,266.3 540.1,262.5 540.2,264.9 540.2,254.9 540.3,255.1 540.4,257.1 540.5,260.6 540.6,256.8 540.6,255.2 540.7,252.2 540.8,256.2 540.9,251.4 541.0,251.6 541.0,251.6 541.1,250.3 541.2,252.5 541.3,252.5 541.4,252.7 541.4,251.5 541.5,256.5 541.6,257.4 541.7,252.0 541.8,251.3 541.8,262.5 541.9,253.0 542.0,255.6 542.1,261.3 542.2,255.3 542.2,264.0 542.3,265.0 542.4,264.9 542.5,263.3 542.6,263.3 542.6,262.5 542.7,261.6 542.8,264.4 542.9,253.2 543.0,252.5 543.0,259.8 543.1,258.0 543.2,253.7 543.3,253.0 543.4,257.3 543.4,253.2 543.5,251.6 543.6,247.6 543.7,246.4 543.8,247.4 543.8,246.5 543.9,246.5 544.0,246.6 544.1,248.4 544.2,246.9 544.2,246.3 544.3,250.7 544.4,248.2 544.5,251.3 544.6,249.0 544.6,252.2 544.7,252.5 544.8,252.2 544.9,252.5 545.0,252.4 545.0,252.9 545.1,251.7 545.2,246.1 545.3,252.0 545.4,246.7 545.4,246.8 545.5,246.4 545.6,242.0 545.7,241.3 545.8,238.2 545.8,237.9 545.9,239.2 546.0,239.4 546.1,237.9 546.2,236.4 546.2,235.0 546.3,235.5 546.4,235.1 546.5,235.3 546.6,235.5 546.6,234.1 546.7,237.3 546.8,235.8 546.9,233.6 547.0,242.8 547.0,236.5 547.1,239.1 547.2,236.1 547.3,241.4 547.4,242.2 547.4,241.9 547.5,242.6 547.6,240.3 547.7,239.6 547.8,241.4 547.8,236.7 547.9,234.4 548.0,230.3 548.1,234.4 548.2,239.6 548.2,237.3 548.3,229.5 548.4,233.2 548.5,231.7 548.6,229.7 548.6,228.2 548.7,230.3 548.8,228.5 548.9,230.6 549.0,231.9 549.0,230.1 549.1,231.2 549.2,232.6 549.3,230.8 549.4,230.9 549.4,241.1 549.5,237.7 549.6,239.6 549.7,241.7 549.8,237.6 549.8,242.8 549.9,241.5 550.0,241.4 550.1,243.2 550.2,244.5 550.2,243.0 550.3,245.7 550.4,245.7 550.5,242.3 550.6,244.7 550.6,244.6 550.7,242.2 550.8,243.1 550.9,241.5 551.0,244.6 551.0,236.2 551.1,232.9 551.2,231.7 551.3,238.8 551.4,233.4 551.4,233.4 551.5,230.5 551.6,230.5 551.7,231.2 551.8,233.8 551.8,235.7 551.9,238.8 552.0,239.7 552.1,239.0 552.2,241.4 552.2,243.6 552.3,245.0 552.4,247.5 552.5,250.8 552.6,246.8 552.6,246.5 552.7,241.7 552.8,240.2 552.9,241.3 553.0,239.8 553.0,232.0 553.1,231.5 553.2,229.7 553.3,235.2 553.4,228.6 553.4,225.9 553.5,222.8 553.6,221.0 553.7,223.2 553.8,226.8 553.8,224.9 553.9,228.8 554.0,230.8 554.1,233.7 554.2,227.2 554.2,232.8 554.3,233.6 554.4,234.8 554.5,235.9 554.6,237.1 554.6,235.0 554.7,240.7 554.8,241.5 554.9,243.1 555.0,245.1 555.0,243.6 555.1,247.5 555.2,243.8 555.3,243.2 555.4,243.4 555.5,244.5 555.5,243.6 555.6,244.3 555.7,245.9 555.8,243.3 555.9,247.6 556.0,245.8 556.0,244.6 556.1,245.0 556.2,245.3 556.3,246.7 556.4,245.9 556.4,242.8 556.5,242.8 556.6,241.5 556.7,240.1 556.8,241.4 556.8,239.0 556.9,234.7 557.0,237.0 557.1,235.2 557.2,237.4 557.2,236.3 557.3,228.7 557.4,237.3 557.5,226.6 557.6,224.5 557.6,227.9 557.7,227.4 557.8,224.0 557.9,224.5 558.0,225.4 558.0,225.1 558.1,228.2 558.2,228.2 558.3,225.8 558.4,228.7 558.4,227.7 558.5,227.4 558.6,225.2 558.7,226.6 558.8,227.9 558.8,231.6 558.9,229.0 559.0,229.7 559.1,225.4 559.2,230.8 559.2,230.8 559.3,231.4 559.4,231.5 559.5,231.7 559.6,229.1 559.6,231.6 559.7,227.7 559.8,228.6 559.9,229.3 560.0,228.2 560.0,223.0 560.1,225.0 560.2,217.2 560.3,219.8 560.4,221.7 560.4,221.8 560.5,219.9 560.6,217.2 560.7,216.1 560.8,218.0 560.8,216.6 560.9,212.8 561.0,214.7 561.1,213.4 561.2,215.5 561.2,216.3 561.3,222.3 561.4,224.4 561.5,224.4 561.6,223.9 561.6,226.0 561.7,234.2 561.8,239.0 561.9,245.5 562.0,241.3 562.0,248.7 562.1,250.7 562.2,251.6 562.3,250.0 562.4,249.4 562.4,251.2 562.5,245.1 562.6,248.3 562.7,240.0 562.8,240.9 562.8,243.6 562.9,242.6 563.0,242.4 563.1,246.6 563.2,239.9 563.2,245.0 563.3,245.0 563.4,245.3 563.5,241.7 563.6,239.2 563.6,239.4 563.7,237.0 563.8,236.4 563.9,235.9 564.0,236.3 564.0,232.1 564.1,231.4 564.2,233.0 564.3,232.4 564.4,234.3 564.4,234.5 564.5,230.4 564.6,233.1 564.7,226.0 564.8,222.6 564.8,226.6 564.9,222.3 565.0,223.1 565.1,225.9 565.2,225.4 565.2,227.1 565.3,224.2 565.4,223.6 565.5,223.7 565.6,223.8 565.6,230.9 565.7,234.9 565.8,226.8 565.9,238.0 566.0,238.9 566.0,238.0 566.1,239.0 566.2,239.2 566.3,244.5 566.4,246.0 566.4,246.5 566.5,246.5 566.6,245.6 566.7,245.1 566.8,246.1 566.8,244.8 566.9,242.9 567.0,245.1 567.1,244.5 567.2,241.2 567.2,243.0 567.3,242.9 567.4,237.4 567.5,242.0 567.6,234.6 567.6,241.6 567.7,236.6 567.8,243.5 567.9,234.2 568.0,234.8 568.0,235.4 568.1,235.4 568.2,234.1 568.3,235.1 568.4,234.2 568.4,238.1 568.5,236.6 568.6,233.8 568.7,233.8 568.8,240.7 568.8,244.3 568.9,243.7 569.0,242.3 569.1,234.1 569.2,241.3 569.2,242.3 569.3,244.0 569.4,240.7 569.5,238.7 569.6,240.4 569.6,241.5 569.7,244.1 569.8,244.1 569.9,242.9 570.0,242.9 570.0,244.2 570.1,238.4 570.2,239.6 570.3,239.5 570.4,237.6 570.4,237.8 570.5,239.1 570.6,236.9 570.7,235.7 570.8,231.6 570.8,229.4 570.9,227.9 571.0,226.7 571.1,227.0 571.2,225.4 571.2,228.3 571.3,227.7 571.4,228.2 571.5,221.6 571.6,223.9 571.6,223.4 571.7,224.3 571.8,221.9 571.9,227.7 572.0,225.3 572.0,222.2 572.1,221.8 572.2,223.6 572.3,222.9 572.4,222.2 572.4,223.6 572.5,227.1 572.6,228.8 572.7,225.4 572.8,229.5 572.8,221.6 572.9,223.9 573.0,231.4 573.1,225.1 573.2,230.1 573.2,234.7 573.3,237.4 573.4,238.1 573.5,236.6 573.6,239.1 573.6,238.7 573.7,240.8 573.8,240.4 573.9,240.8 574.0,240.1 574.0,242.7 574.1,240.8 574.2,243.5 574.3,246.6 574.4,244.4 574.4,246.0 574.5,245.1 574.6,249.1 574.7,251.5 574.8,251.4 574.8,250.0 574.9,254.2 575.0,254.7 575.1,252.8 575.2,252.8 575.2,248.6 575.3,250.9 575.4,249.6 575.5,248.3 575.6,242.7 575.6,249.7 575.7,245.6 575.8,247.7 575.9,244.8 576.0,237.9 576.0,236.6 576.1,234.2 576.2,234.7 576.3,232.6 576.4,235.6 576.4,232.8 576.5,230.8 576.6,229.9 576.7,227.3 576.8,229.8 576.8,229.7 576.9,228.7 577.0,226.1 577.1,229.1 577.2,228.0 577.2,228.0 577.3,229.7 577.4,230.0 577.5,225.9 577.6,225.7 577.6,227.2 577.7,226.1 577.8,229.6 577.9,227.3 578.0,225.6 578.0,227.0 578.1,226.3 578.2,227.2 578.3,226.4 578.4,228.1 578.4,225.6 578.5,225.5 578.6,226.9 578.7,228.6 578.8,232.3 578.8,231.1 578.9,235.1 579.0,233.1 579.1,237.5 579.2,232.4 579.2,233.3 579.3,237.7 579.4,232.0 579.5,236.6 579.6,233.1 579.6,234.3 579.7,235.8 579.8,237.6 579.9,236.4 580.0,234.8 580.0,231.7 580.1,238.0 580.2,233.1 580.3,231.7 580.4,235.4 580.4,230.3 580.5,229.7 580.6,231.5 580.7,233.0 580.8,230.0 580.8,232.3 580.9,230.2 581.0,231.7 581.1,228.7 581.2,232.6 581.2,228.0 581.3,227.2 581.4,227.1 581.5,228.4 581.6,230.9 581.6,231.9 581.7,234.7 581.8,233.2 581.9,234.6 582.0,237.5 582.0,243.0 582.1,245.7 582.2,239.9 582.3,245.4 582.4,246.0 582.4,249.9 582.5,250.7 582.6,250.5 582.7,250.8 582.8,243.0 582.8,242.9 582.9,243.3 583.0,244.2 583.1,241.0 583.2,240.3 583.2,236.9 583.3,232.1 583.4,232.2 583.5,231.0 584.3,194.2 585.1,225.3 585.2,227.8 585.2,229.5 585.3,229.0 585.4,229.9 585.5,227.9 585.6,228.9 585.6,236.3 585.7,239.5 585.8,238.6 585.9,237.7 586.0,237.4 586.0,235.9 586.1,233.6 586.2,234.2 586.3,231.4 586.4,238.2 586.4,232.9 586.5,230.6 586.6,232.2 586.7,234.4 586.8,236.9 586.8,232.5 586.9,232.3 587.0,231.4 587.1,230.3 587.2,230.1 587.2,231.6 587.3,231.2 587.4,229.0 587.5,228.3 587.6,223.1 587.6,227.1 587.7,227.5 587.8,224.3 587.9,223.4 588.0,228.7 588.0,229.0 588.1,224.7 588.2,227.8 588.3,223.7 588.4,224.2 588.4,224.2 588.5,222.4 588.6,223.2 588.7,221.5 588.8,220.8 588.8,221.7 588.9,220.7 589.0,221.2 589.1,222.1 589.2,223.6 589.2,217.8 589.3,218.5 589.4,217.7 589.5,217.8 589.6,218.0 589.6,223.3 589.7,217.5 589.8,217.6 589.9,221.3 590.0,218.6 590.0,220.6 590.1,219.0 590.2,217.7 590.3,217.9 590.4,220.1 590.4,217.8 590.5,221.8 590.6,223.4 590.7,222.1 590.8,220.6 590.8,225.2 590.9,218.4 591.0,229.9 591.1,227.1 591.2,234.1 591.2,231.0 591.3,227.1 591.4,232.2 591.5,231.2 591.6,234.2 591.6,232.0 591.7,236.1 591.8,236.3 591.9,232.1 592.0,234.1 592.0,234.6 592.1,235.0 592.2,226.0 592.3,230.9 592.4,233.7 592.4,233.0 592.5,227.8 592.6,225.7 592.7,233.0 592.8,235.8 592.8,232.8 592.9,228.6 593.0,229.3 593.1,231.9 593.2,229.7 593.2,225.8 593.3,228.3 593.4,226.5 593.5,227.3 593.6,229.4 593.6,231.5 593.7,229.9 593.8,231.6 593.9,230.5 594.0,236.3 594.0,239.1 594.1,238.8 594.2,244.0 594.3,239.8 594.4,242.8 594.4,239.0 594.5,243.9 594.6,248.2 594.7,249.4 594.8,248.9 594.8,250.4 594.9,253.2 595.0,253.2 595.1,254.0 595.2,251.8 595.2,249.7 595.3,251.3 595.4,248.0 595.5,247.5 595.6,243.1 595.6,250.6 595.7,247.6 595.8,246.7 595.9,245.9 596.0,240.0 596.0,239.0 596.1,242.2 596.2,239.6 596.3,240.0 596.4,239.8 596.4,242.2 596.5,238.8 596.6,244.2 596.7,239.5 596.8,242.3 596.8,241.8 596.9,248.0 597.0,246.7 597.1,253.1 597.2,252.7 597.2,250.5 597.3,252.3 597.4,253.1 597.5,252.8 597.6,253.1 597.6,250.4 597.7,253.0 597.8,247.2 597.9,246.0 598.0,246.0 598.0,244.9 598.1,246.9 598.2,245.8 598.3,240.9 598.4,241.9 598.4,241.3 598.5,241.3 598.6,240.1 598.7,234.9 598.8,232.8 598.8,232.1 598.9,232.1 599.0,231.1 599.1,230.8 599.2,228.3 599.2,230.1 599.3,230.5 599.4,229.7 599.5,228.4 599.6,224.4 599.6,226.3 599.7,233.1 599.8,225.5 599.9,232.6 600.0,229.3 600.0,227.4 600.1,225.5 600.2,223.7 600.3,222.9 600.4,221.9 600.4,221.8 600.5,222.0 600.6,221.6 600.7,224.4 600.8,225.1 600.8,225.0 600.9,230.2 601.0,230.4 601.1,231.9 601.2,232.5 601.2,228.0 601.3,233.4 601.4,231.0 601.5,234.3 601.6,233.1 601.6,237.5 601.7,234.8 601.8,238.4 601.9,238.8 602.0,242.0 602.0,244.4 602.1,245.9 602.2,245.3 602.3,245.7 602.4,244.9 602.4,245.0 602.5,245.5 602.6,249.6 602.7,245.4 602.8,248.7 602.8,246.7 602.9,251.8 603.0,245.2 603.1,247.6 603.2,250.7 603.2,246.7 603.3,247.5 603.4,249.7 603.5,249.2 603.6,250.4 603.6,250.7 603.7,251.2 603.8,251.8 603.9,250.7 604.0,251.9 604.0,250.3 604.1,247.8 604.2,242.2 604.3,245.9 604.4,246.7 604.4,248.1 604.5,238.6 604.6,241.1 604.7,241.8 604.8,241.5 604.8,240.0 604.9,238.5 605.0,237.7 605.1,240.5 605.2,239.6 605.2,243.6 605.3,240.7 605.4,247.0 605.5,250.3 605.6,249.9 605.6,250.7 605.7,251.4 605.8,250.2 605.9,251.4 606.0,252.9 606.0,253.5 606.1,256.8 606.2,255.4 606.3,254.4 606.4,254.3 606.4,250.8 606.5,249.4 606.6,252.2 606.7,252.2 606.8,247.7 606.8,245.4 606.9,251.3 607.0,241.0 607.1,247.5 607.2,238.9 607.2,241.7 607.3,241.4 607.4,240.9 607.5,238.9 607.6,241.4 607.6,236.9 607.7,234.7 607.8,234.8 607.9,236.1 608.0,236.7 608.0,240.6 608.1,239.4 608.2,243.9 608.3,246.8 608.4,242.7 608.4,241.7 608.5,241.0 608.6,241.9 608.7,248.0 608.8,249.9 608.8,246.5 608.9,249.4 609.0,252.2 609.1,251.7 609.2,250.4 609.2,253.8 609.3,252.9 609.4,253.6 609.5,254.0 609.6,251.8 609.6,250.5 609.7,253.0 609.8,245.7 609.9,248.7 610.0,248.3 610.0,249.0 610.1,247.7 610.2,247.5 610.3,245.2 610.4,242.9 610.4,245.7 610.5,240.8 610.6,240.4 610.7,238.3 610.8,238.2 610.8,236.5 610.9,239.3 611.0,236.4 611.1,237.6 611.2,234.8 611.2,239.0 611.3,237.6 611.4,239.2 611.5,237.2 611.6,235.4 611.6,234.2 611.7,235.3 611.8,238.7 611.9,238.4 612.0,239.2 612.0,233.6 612.1,235.3 612.2,236.0 612.3,231.8 612.4,231.9 612.4,231.8 612.5,232.5 612.6,231.1 612.7,232.7 612.8,236.4 612.8,234.0 612.9,235.2 613.0,235.8 613.1,233.8 613.2,239.7 613.2,242.1 613.3,239.2 613.4,246.0 613.5,245.6 613.6,256.0 613.6,249.0 613.7,244.2 613.8,245.6 613.9,252.2 614.0,257.6 614.0,253.1 614.1,253.3 614.2,255.1 614.3,259.4 614.4,259.7 614.4,261.4 614.5,260.9 614.6,260.9 614.7,260.1 614.8,260.1 614.8,261.1 614.9,255.8 615.0,254.0 615.1,258.0 615.2,257.8 615.2,256.1 615.3,253.7 615.4,253.3 615.5,252.8 615.6,254.1 615.6,251.8 615.7,252.6 615.8,248.1 615.9,248.3 616.0,248.3 616.0,248.1 616.1,249.3 616.2,248.1 616.3,249.8 616.4,251.4 616.4,250.9 616.5,249.5 616.6,249.3 616.7,248.7 616.8,254.9 616.8,249.6 616.9,253.4 617.0,255.2 617.1,255.1 617.2,252.2 617.2,251.3 617.3,255.0 617.4,252.6 617.5,255.1 617.6,254.9 617.6,255.0 617.7,255.6 617.8,254.5 617.9,254.8 618.0,255.1 618.0,255.1 618.1,254.5 618.2,254.3 618.3,262.3 618.4,262.2 618.4,256.7 618.5,261.2 618.6,261.5 618.7,259.3 618.8,255.9 618.8,254.4 618.9,260.4 619.0,262.6 619.1,261.2 619.2,261.8 619.2,262.3 619.3,263.3 619.4,261.2 619.5,258.9 619.6,259.2 619.6,257.9 619.7,253.6 619.8,252.9 619.9,251.7 620.0,252.8 620.0,256.1 620.1,253.7 620.2,251.3 620.3,249.4 620.4,248.8 620.4,248.3 620.5,251.6 620.6,244.7 620.7,244.4 620.8,246.4 620.8,243.1 620.9,241.5 621.0,243.7 621.1,244.7 621.2,241.5 621.2,242.7 621.3,244.0 621.4,249.2 621.5,251.4 621.6,249.4 621.6,249.3 621.7,251.2 621.8,250.7 621.9,252.8 622.0,248.1 622.0,250.0 622.1,251.2 622.2,252.8 622.3,253.2 622.4,253.3 622.4,248.4 622.5,249.3 622.6,247.1 622.7,247.8 622.8,253.5 622.8,245.9 622.9,248.2 623.0,252.2 623.1,249.7 623.2,247.1 623.2,243.7 623.3,240.7 623.4,238.8 623.5,238.4 623.6,233.0 623.6,242.8 623.7,239.6 623.8,234.0 623.9,235.4 624.0,233.1 624.0,234.8 624.1,232.8 624.2,232.9 624.3,233.8 624.4,233.8 624.4,233.4 624.5,233.7 624.6,233.7 624.7,233.6 624.8,234.0 624.8,233.1 624.9,233.4 625.0,232.7 625.1,232.9 625.2,234.0 625.2,234.0 625.3,233.7 625.4,233.1 625.5,233.9 625.6,233.3 625.6,234.0 625.7,233.2 625.8,233.6 625.9,233.2 626.0,232.9 626.0,232.8 626.1,233.6 626.2,233.4 626.3,234.7 626.4,233.7 626.4,238.4 626.5,240.2 626.6,239.9 626.7,233.3 626.8,245.5 626.8,244.5 626.9,247.3 627.0,248.3 627.1,245.6 627.2,247.3 627.2,251.7 627.3,251.6 627.4,250.2 627.5,250.3 627.6,250.5 627.6,247.6 627.7,248.4 627.8,244.4 627.9,244.2 628.0,244.2 628.0,250.5 628.1,244.0 628.2,246.3 628.3,241.8 628.4,245.1 628.4,246.8 628.5,243.9 628.6,240.3 628.7,240.3 628.8,243.4 628.8,239.8 628.9,239.3 629.0,239.6 629.1,238.6 629.2,240.4 629.2,238.6 629.3,241.8 629.4,247.0 629.5,240.0 629.6,243.3 629.6,247.1 629.7,242.4 629.8,249.4 629.9,244.5 630.0,249.3 630.0,252.7 630.1,253.9 630.2,253.1 630.3,251.3 630.4,253.7 630.4,248.0 630.5,246.5 630.6,247.8 630.7,243.2 630.8,247.4 630.8,241.3 630.9,244.0 631.0,246.0 631.1,238.3 631.2,240.9 631.2,239.3 631.3,238.5 631.4,237.2 631.5,235.7 631.6,232.6 631.6,230.0 631.7,228.6 631.8,226.9 631.9,228.2 632.0,228.5 632.0,231.9 632.1,233.7 632.2,233.5 632.3,230.4 632.4,235.6 632.4,233.9 632.5,232.6 632.6,237.0 632.7,232.0 632.8,234.0 632.8,235.9 632.9,240.6 633.0,242.7 633.1,241.1 633.2,241.8 633.2,240.5 633.3,244.3 633.4,244.3 633.5,243.1 633.6,242.6 633.6,242.8 633.7,241.3 633.8,239.3 633.9,234.6 634.0,237.5 634.0,237.3 634.1,236.6 634.2,231.6 634.3,234.0 634.4,233.3 634.4,231.1 634.5,232.9 634.6,232.4 634.7,231.6 634.8,229.2 634.8,227.1 634.9,227.5 635.0,225.7 635.1,227.4 635.2,233.4 635.2,237.4 635.3,238.1 635.4,243.8 635.5,241.4 635.6,246.2 635.6,249.3 635.7,252.3 635.8,252.5 635.9,250.1 636.0,250.9 636.0,246.6 636.1,242.7 636.2,244.4 636.3,243.2 636.4,238.8 636.4,239.9 636.5,240.2 636.6,237.5 636.7,231.3 636.8,234.7 636.8,226.1 636.9,227.7 637.0,232.6 637.1,229.0 637.2,226.6 637.2,220.7 637.3,223.7 637.4,221.1 637.5,222.7 637.6,221.4 637.6,225.5 637.7,223.8 637.8,222.5 637.9,220.8 638.0,220.9 638.0,224.5 638.1,227.4 638.2,226.5 638.3,231.3 638.4,225.7 638.4,228.9 638.5,225.7 638.6,228.6 638.7,228.0 638.8,228.9 638.8,230.0 638.9,231.3 639.0,231.6 639.1,231.5 639.2,231.1 639.2,231.4 639.3,231.3 639.4,228.3 639.5,230.6 639.6,228.6 639.6,225.0 639.7,224.9 639.8,227.6 639.9,226.8 640.0,224.9 640.0,229.6 640.1,227.4 640.2,226.1 640.3,225.7 640.4,229.0 640.4,225.4 640.5,225.4 640.6,226.2 640.7,227.1 640.8,226.1 640.8,228.3 640.9,233.0 641.0,228.2 641.1,228.9 641.2,231.4 641.2,233.9 641.3,236.1 641.4,235.3 641.5,233.0 641.6,235.5 641.6,238.5 641.7,244.0 641.8,242.3 641.9,240.1 642.0,243.9 642.0,247.2 642.1,247.4 642.2,247.8 642.3,247.4 642.4,246.6 642.4,247.5 642.5,248.7 642.6,248.0 642.7,252.9 642.8,253.0 642.8,253.3 642.9,258.0 643.0,247.9 643.1,253.0 643.2,249.5 643.2,256.2 643.3,254.0 643.4,255.1 643.5,254.4 643.6,253.1 643.6,256.6 643.7,257.1 643.8,258.1 643.9,258.1 644.0,256.8 644.0,257.6 644.1,259.1 644.2,262.8 644.3,259.8 644.4,263.1 644.4,268.7 644.5,264.0 644.6,260.3 644.7,266.7 644.8,269.2 644.8,264.2 644.9,266.0 645.0,266.8 645.1,268.4 645.2,269.0 645.2,265.5 645.3,264.9 645.4,263.4 645.5,258.8 645.6,258.0 645.6,261.7 645.7,252.9 645.8,252.8 645.9,251.6 646.0,249.5 646.0,243.9 646.1,241.1 646.2,241.3 646.3,247.1 646.4,239.6 646.4,240.3 646.5,237.0 646.6,237.3 646.7,238.3 646.8,239.3 646.8,242.9 646.9,239.5 647.0,242.9 647.1,244.8 647.2,243.4 647.2,246.8 647.3,246.0 647.4,247.5 647.5,245.9 647.6,251.9 647.6,252.0 647.7,251.9 647.8,254.4 647.9,258.0 648.0,256.0 648.0,257.2 648.1,257.2 648.2,257.2 648.3,254.7 648.4,251.0 648.4,254.9 648.5,255.6 648.6,249.7 648.7,255.4 648.8,244.3 648.8,240.6 648.9,245.0 649.0,244.3 649.1,243.6 649.2,238.0 649.2,241.5 649.3,236.8 649.4,236.7 649.5,237.5 649.6,236.9 649.6,242.6 649.7,241.1 649.8,239.8 649.9,242.8 650.0,242.8 650.0,241.4 650.1,246.0 650.2,246.2 650.3,242.5 650.4,241.1 650.4,246.0 650.5,248.9 650.6,249.3 650.7,250.4 650.8,249.5 650.8,247.7 650.9,247.8 651.0,249.1 651.1,248.3 651.2,248.4 651.2,240.6 651.3,243.5 651.4,244.8 651.5,242.6 651.6,242.0 651.6,240.5 651.7,237.2 651.8,236.9 651.9,238.8 652.0,238.6 652.0,244.4 652.1,240.9 652.2,244.3 652.3,241.4 652.4,240.8 652.4,247.9 652.5,245.8 652.6,249.3 652.7,248.0 652.8,250.3 652.8,249.4 652.9,252.2 653.0,252.1 653.1,249.3 653.2,246.3 653.2,250.0 653.3,251.4 653.4,251.8 653.5,251.5 653.6,252.4 653.6,252.3 653.7,251.5 653.8,248.9 653.9,252.1 654.0,252.0 654.0,252.3 654.1,248.0 654.2,248.5 654.3,252.2 654.4,249.1 654.4,248.2 654.5,247.3 654.6,252.3 654.7,246.9 654.8,247.1 654.8,249.2 654.9,247.9 655.0,246.4 655.1,247.7 655.2,248.3 655.2,250.0 655.3,251.5 655.4,250.5 655.5,250.4 655.6,252.5 655.6,256.0 655.7,261.5 655.8,251.8 655.9,252.8 656.0,257.6 656.0,255.0 656.1,258.4 656.2,260.7 656.3,260.1 656.4,261.9 656.4,264.2 656.5,263.7 656.6,264.4 656.7,263.5 656.8,262.6 656.8,262.1 656.9,260.5 657.0,260.1 657.1,255.6 657.2,252.2 657.2,253.3 657.3,252.0 657.4,243.7 657.5,250.7 657.6,253.8 657.6,252.8 657.7,251.8 657.8,249.1 657.9,242.1 658.0,244.4 658.0,244.1 658.1,242.1 658.2,237.7 658.3,241.9 658.4,240.0 658.4,239.5 658.5,239.1 658.6,236.0 658.7,234.4 658.8,236.9 658.8,237.8 658.9,240.4 659.0,237.4 659.1,242.3 659.2,244.8 659.2,242.7 659.3,247.0 659.4,248.4 659.5,246.3 659.6,246.4 659.6,250.3 659.7,253.1 659.8,250.5 659.9,251.0 660.0,253.0 660.0,255.7 660.1,259.0 660.2,258.6 660.3,260.5 660.4,259.1 660.4,257.6 660.5,259.0 660.6,253.9 660.7,256.0 660.8,256.4 660.8,255.9 660.9,253.7 661.0,247.3 661.1,243.8 661.2,246.2 661.2,244.8 661.3,242.2 661.4,240.9 661.5,241.0 661.6,239.6 661.6,239.5 661.7,241.2 661.8,240.2 661.9,240.7 662.0,240.9 662.0,239.1 662.1,240.9 662.2,240.3 662.3,240.6 662.4,236.9 662.4,240.8 662.5,240.3 662.6,237.5 662.7,237.4 662.8,240.1 662.8,239.7 662.9,238.2 663.0,237.2 663.1,238.2 663.2,236.9 663.2,238.0 663.3,241.1 663.4,244.9 663.5,247.6 663.6,242.8 663.6,244.0 663.7,241.4 663.8,248.8 663.9,242.9 664.0,246.1 664.0,243.5 664.1,243.4 664.2,248.7 664.3,251.0 664.4,249.9 664.4,248.3 664.5,251.8 664.6,252.3 664.7,250.0 664.8,250.1 664.8,248.7 664.9,244.3 665.0,240.0 665.1,242.2 665.2,250.1 665.2,241.5 665.3,239.8 665.4,240.5 665.5,233.7 665.6,235.2 665.6,233.9 665.7,235.1 665.8,237.2 665.9,240.0 666.0,241.1 666.0,239.1 666.1,240.3 666.2,244.1 666.3,245.8 666.4,235.8 666.4,242.6 666.5,247.5 666.6,245.7 666.7,245.5 666.8,250.0 666.8,253.1 666.9,254.1 667.0,256.1 667.1,257.4 667.2,258.6 667.2,262.6 667.3,263.3 667.4,268.5 667.5,266.4 667.6,266.0 667.6,264.4 667.7,268.0 667.8,269.9 667.9,270.4 668.0,274.6 668.0,272.2 668.1,267.9 668.2,266.4 668.3,263.8 668.4,259.7 668.5,255.5 668.5,254.2 668.6,247.5 668.7,252.9 668.8,249.6 668.9,247.5 669.0,243.8 669.0,244.8 669.1,240.2 669.2,243.0 669.3,240.3 669.4,237.5 669.4,239.8 669.5,240.9 669.6,242.9 669.7,239.8 669.8,237.9 669.8,236.9 669.9,235.3 670.0,235.9 670.1,235.7 670.2,237.5 670.2,235.1 670.3,235.6 670.4,237.2 670.5,237.6 670.6,239.7 670.6,238.0 670.7,238.6 670.8,241.3 670.9,244.4 671.0,242.6 671.0,244.2 671.1,241.4 671.2,242.2 671.3,243.9 671.4,243.5 671.4,239.5 671.5,237.1 671.6,242.4 671.7,239.1 671.8,240.4 671.8,241.8 671.9,244.3 672.0,233.9 672.1,235.2 672.2,233.2 672.2,232.9 672.3,236.2 672.4,238.4 672.5,238.2 672.6,233.1 672.6,237.7 672.7,230.8 672.8,234.5 672.9,233.2 673.0,231.6 673.0,230.5 673.1,231.1 673.2,229.9 673.3,232.3 673.4,236.4 673.4,231.2 673.5,239.4 673.6,236.8 673.7,235.0 673.8,238.2 673.8,241.8 673.9,244.9 674.0,241.6 674.1,240.9 674.2,244.4 674.2,241.3 674.3,243.3 674.4,244.7 674.5,246.0 674.6,247.8 674.6,249.6 674.7,251.7 674.8,252.7 674.9,252.7 675.0,250.2 675.0,250.6 675.1,247.0 675.2,253.0 675.3,247.1 675.4,246.4 675.4,247.4 675.5,247.2 675.6,247.0 675.7,238.5 675.8,238.5 675.8,238.3 675.9,239.0 676.0,239.3 676.1,239.0 676.2,235.7 676.2,233.3 676.3,239.5 676.4,233.8 676.5,234.2 676.6,237.4 676.6,232.8 676.7,233.0 676.8,234.2 676.9,235.9 677.0,233.2 677.0,235.9 677.1,234.0 677.2,233.5 677.3,233.6 677.4,236.6 677.4,234.3 677.5,232.5 677.6,233.0 677.7,238.7 677.8,241.8 677.8,240.7 677.9,240.2 678.0,238.8 678.1,240.6 678.2,245.2 678.2,245.9 678.3,246.7 678.4,247.0 678.5,249.5 678.6,254.8 678.6,251.7 678.7,252.2 678.8,256.9 678.9,252.4 679.0,252.7 679.0,261.4 679.1,259.1 679.2,256.9 679.3,259.7 679.4,261.9 679.4,261.2 679.5,264.9 679.6,264.7 679.7,261.6 679.8,259.3 679.8,259.9 679.9,256.6 680.0,247.5 680.1,250.1 680.2,245.4 680.2,254.6 680.3,244.9 680.4,243.6 680.5,244.0 680.6,242.9 680.6,236.9 680.7,232.8 680.8,233.4 680.9,232.5 681.0,232.3 681.0,231.4 681.1,232.4 681.2,231.9 681.3,232.3 681.4,230.6 681.4,233.2 681.5,232.6 681.6,232.5 681.7,230.7 681.8,230.6 681.8,233.3 681.9,230.3 682.0,233.1 682.1,232.5 682.2,236.7 682.2,241.2 682.3,233.2 682.4,242.2 682.5,243.0 682.6,247.9 682.6,249.8 682.7,250.5 682.8,253.1 682.9,254.4 683.0,255.6 683.0,263.1 683.1,263.5 683.2,265.6 683.3,268.4 683.4,265.7 683.4,263.5 683.5,265.8 683.6,266.5 683.7,258.1 683.8,257.0 683.8,257.2 683.9,261.8 684.0,251.3 684.1,252.8 684.2,248.1 684.2,247.7 684.3,244.8 684.4,250.0 684.5,246.2 684.6,243.1 684.6,242.6 684.7,238.6 684.8,239.9 684.9,243.5 685.0,240.9 685.0,241.2 685.1,244.2 685.2,241.6 685.3,241.2 685.4,242.6 685.4,241.2 685.5,242.3 685.6,247.0 685.7,248.6 685.8,247.9 685.8,246.8 685.9,246.8 686.0,248.0 686.1,248.1 686.2,251.1 686.2,250.5 686.3,249.6 686.4,255.4 686.5,258.8 686.6,253.4 686.6,253.4 686.7,256.2 686.8,257.2 686.9,261.8 687.0,260.1 687.0,261.1 687.1,262.1 687.2,261.0 687.3,260.9 687.4,256.8 687.4,256.5 687.5,255.0 687.6,252.9 687.7,247.4 687.8,257.0 687.8,253.9 687.9,252.1 688.0,251.9 688.1,246.6 688.2,247.7 688.2,247.6 688.3,244.7 688.4,244.1 688.5,242.9 688.6,241.4 688.6,240.9 688.7,242.4 688.8,240.2 688.9,240.8 689.0,239.9 689.0,240.3 689.1,243.4 689.2,240.7 689.3,239.4 689.4,240.6 689.4,240.4 689.5,236.3 689.6,239.6 689.7,232.8 689.8,232.8 689.8,235.7 689.9,238.7 690.0,232.7 690.1,234.1 690.2,235.0 690.2,235.6 690.3,234.5 690.4,234.7 690.5,232.7 690.6,233.3 690.6,233.7 690.7,233.7 690.8,237.2 690.9,238.4 691.0,236.2 691.0,238.5 691.1,238.4 691.2,237.6 691.3,242.0 691.4,246.1 691.4,240.8 691.5,249.7 691.6,248.3 691.7,248.7 691.8,253.7 691.8,252.3 691.9,254.5 692.0,255.2 692.1,254.6 692.2,252.6 692.2,251.4 692.3,248.7 692.4,250.8 692.5,251.4 692.6,247.8 692.6,246.8 692.7,243.2 692.8,246.1 692.9,247.2 693.0,235.5 693.0,244.7 693.1,243.4 693.2,240.5 693.3,237.2 693.4,240.6 693.4,235.9 693.5,236.4 693.6,235.1 693.7,234.7 693.8,236.0 693.8,235.6 693.9,234.6 694.0,236.9 694.1,234.1 694.2,236.0 694.2,239.5 694.3,245.2 694.4,242.6 694.5,236.8 694.6,246.4 694.6,245.2 694.7,246.1 694.8,241.1 694.9,245.3 695.0,246.6 695.0,247.7 695.1,249.2 695.2,247.9 695.3,250.9 695.4,249.6 695.4,249.3 695.5,245.3 695.6,246.0 695.7,247.1 695.8,244.4 695.8,245.0 695.9,244.2 696.0,250.0 696.1,249.9 696.2,249.1 696.2,245.7 696.3,239.9 696.4,243.7 696.5,240.4 696.6,236.8 696.6,239.3 696.7,240.4 696.8,242.5 696.9,237.6 697.0,238.5 697.0,238.2 697.1,237.5 697.2,237.8 697.3,239.7 697.4,239.4 697.4,242.6 697.5,243.5 697.6,242.2 697.7,243.3 697.8,253.3 697.8,251.5 697.9,252.7 698.0,255.4 698.1,258.0 698.2,261.0 698.2,260.0 698.3,260.2 698.4,262.9 698.5,262.1 698.6,263.4 698.6,262.7 698.7,262.3 698.8,262.0 698.9,258.5 699.0,257.7 699.0,257.7 699.1,257.6 699.2,254.3 699.3,256.1 699.4,259.3 699.4,252.7 699.5,251.4 699.6,251.1 699.7,253.5 699.8,250.9 699.8,246.6 699.9,247.6 700.0,251.9 700.1,251.6 700.2,249.3 700.2,248.1 700.3,248.3 700.4,247.5 700.5,246.6 700.6,245.9 700.6,245.3 700.7,245.8 700.8,244.3 700.9,243.8 701.0,244.8 701.0,240.9 701.1,235.2 701.2,247.6 701.3,240.3 701.4,241.1 701.4,238.3 701.5,239.7 701.6,238.0 701.7,239.9 701.8,238.6 701.8,235.2 701.9,235.3 702.0,235.3 702.1,236.4 702.2,236.2 702.2,237.2 702.3,239.9 702.4,241.4 702.5,244.7 702.6,241.2 702.6,241.5 702.7,248.5 702.8,249.2 702.9,244.6 703.0,245.9 703.0,246.9 703.1,241.4 703.2,242.0 703.3,245.7 703.4,249.1 703.4,249.0 703.5,248.1 703.6,249.7 703.7,250.6 703.8,252.5 703.8,252.4 703.9,253.0 704.0,257.4 704.1,257.3 704.2,260.2 704.2,256.7 704.3,254.7 704.4,260.0 704.5,255.8 704.6,260.0 704.6,260.4 704.7,259.9 704.8,259.7 704.9,263.0 705.0,266.2 705.0,263.6 705.1,267.2 705.2,266.7 705.3,265.4 705.4,264.1 705.4,262.9 705.5,260.5 705.6,261.9 705.7,260.6 705.8,254.8 705.8,249.9 705.9,255.6 706.0,253.3 706.1,253.8 706.2,255.9 706.2,253.5 706.3,249.2 706.4,248.6 706.5,246.8 706.6,246.9 706.6,246.4 706.7,246.8 706.8,244.2 706.9,243.7 707.0,243.2 707.0,244.0 707.1,242.3 707.2,243.6 707.3,239.5 707.4,237.2 707.4,234.6 707.5,243.7 707.6,242.9 707.7,230.9 707.8,229.6 707.8,232.9 707.9,233.7 708.0,231.2 708.1,229.9 708.2,233.8 708.2,235.6 708.3,235.0 708.4,234.0 708.5,238.8 708.6,244.9 708.6,245.0 708.7,242.9 708.8,243.8 708.9,240.3 709.0,244.5 709.0,245.7 709.1,246.5 709.2,249.8 709.3,248.7 709.4,247.1 709.4,242.9 709.5,238.0 709.6,239.2 709.7,240.1 709.8,235.9 709.8,237.2 709.9,234.4 710.0,231.8 710.1,234.3 710.2,230.3 710.2,230.3 710.3,226.2 710.4,226.9 710.5,224.7 710.6,228.7 710.6,229.4 710.7,236.2 710.8,229.9 710.9,232.3 711.0,235.1 711.0,235.1 711.1,233.8 711.2,242.4 711.3,245.2 711.4,249.1 711.4,250.7 711.5,252.2 711.6,255.6 711.7,257.0 711.8,261.5 711.8,255.8 711.9,254.8 712.0,254.6 712.1,262.3 712.2,268.2 712.2,266.7 712.3,269.5 712.4,270.2 712.5,269.9 712.6,267.7 712.6,265.9 712.7,267.1 712.8,264.6 712.9,264.7 713.0,268.0 713.0,260.4 713.1,261.2 713.2,260.7 713.3,253.9 713.4,253.7 713.4,254.4 713.5,253.6 713.6,255.4 713.7,254.9 713.8,258.1 713.8,261.8 713.9,261.4 714.0,255.4 714.1,255.8 714.2,257.3 714.2,260.9 714.3,257.4 714.4,258.3 714.5,260.8 714.6,260.7 714.6,261.9 714.7,262.9 714.8,263.2 714.9,261.1 715.0,262.4 715.0,258.6 715.1,261.4 715.2,263.2 715.3,262.9 715.4,260.9 715.4,259.9 715.5,254.8 715.6,260.0 715.7,261.3 715.8,256.7 715.8,254.7 715.9,256.3 716.0,257.1 716.1,256.1 716.2,257.8 716.2,256.9 716.3,257.9 716.4,261.6 716.5,261.5 716.6,264.4 716.6,262.2 716.7,272.4 716.8,269.6 716.9,274.9 717.0,270.9 717.0,272.0 717.1,269.2 717.2,274.5 717.3,271.0 717.4,266.2 717.4,265.0 717.5,270.0 717.6,261.2 717.7,256.7 717.8,259.0 717.8,250.9 717.9,245.6 718.0,244.4 718.1,246.3 718.2,244.5 718.2,246.9 718.3,248.9 718.4,251.8 718.5,254.0 718.6,247.8 718.6,252.9 718.7,256.1 718.8,257.3 718.9,257.9 719.0,260.2 719.0,263.2 719.1,259.7 719.2,260.8 719.3,262.5 719.4,262.3 719.4,259.6 719.5,263.0 719.6,260.1 719.7,256.4 719.8,254.0 719.8,257.9 719.9,256.5 720.0,254.7 720.1,256.7 720.2,257.6 720.2,253.8 720.3,255.0 720.4,251.8 720.5,248.0 720.6,250.9 720.6,248.1 720.7,248.0 720.8,249.4 720.9,248.0 721.0,251.5 721.0,253.5 721.1,251.7 721.2,250.6 721.3,253.0 721.4,260.2 721.4,258.9 721.5,256.7 721.6,257.3 721.7,258.9 721.8,260.5 721.8,265.5 721.9,267.0 722.0,270.6 722.1,267.8 722.2,266.7 722.2,267.3 722.3,262.4 722.4,259.8 722.5,264.6 722.6,258.5 722.6,257.6 722.7,258.2 722.8,253.6 722.9,249.6 723.0,250.8 723.0,249.1 723.1,246.3 723.2,247.0 723.3,246.7 723.4,246.5 723.4,247.9 723.5,250.8 723.6,255.1 723.7,251.8 723.8,250.1 723.8,248.4 723.9,252.1 724.0,246.8 724.1,253.4 724.2,253.4 724.2,255.0 724.3,255.5 724.4,250.6 724.5,254.5 724.6,252.1 724.6,254.4 724.7,255.7 724.8,255.3 724.9,255.4 725.0,254.1 725.0,256.6 725.1,255.6 725.2,255.0 725.3,255.4 725.4,248.4 725.4,248.4 725.5,249.6 725.6,248.2 725.7,248.4 725.8,248.0 725.8,248.9 725.9,248.8 726.0,254.0 726.1,249.1 726.2,254.4 726.2,258.1 726.3,258.8 726.4,259.8 726.5,256.7 726.6,258.1 726.6,260.4 726.7,258.7 726.8,258.2 726.9,257.2 727.0,259.8 727.0,253.6 727.1,253.2 727.2,252.3 727.3,251.6 727.4,251.1 727.4,249.5 727.5,247.6 727.6,246.3 727.7,247.8 727.8,248.7 727.8,245.3 727.9,243.8 728.0,248.3 728.1,245.9 728.2,249.1 728.2,255.0"/>
<polyline fill="none" stroke="#ceac30" stroke-width="0.8" stroke-linejoin="round" points="93.5,137.5 102.6,137.5 104.6,200.0 105.6,271.1 113.5,271.2 114.3,275.2 115.5,280.0 118.0,280.8 125.0,281.6 152.5,281.6 153.0,280.8 163.0,280.8 163.6,281.6 258.0,281.5 259.0,281.0 268.0,281.0 269.0,281.5 271.5,281.4 272.5,276.7 281.5,276.5 283.0,280.4 291.5,280.5 292.5,281.5 467.0,281.5 468.0,280.6 476.5,280.6 477.3,281.5 482.0,281.5 482.5,281.1 491.0,281.1 491.5,281.5 728.5,281.5"/>
<rect x="93.5" y="14.5" width="635.0" height="360.0" fill="none" stroke="#c6c6c6" stroke-width="1"/>
<rect x="100.5" y="344.5" width="453" height="25" fill="#fff" stroke="#000" stroke-width="1"/>
<text x="505.9" y="355" text-anchor="end" fill="#000" style="letter-spacing:0.022px">Henan Ancai Hi-Tech Co Ltd - ILLIQ-MFMEM Illiquidity</text>
<text x="505.9" y="367" text-anchor="end" fill="#000" style="letter-spacing:0.022px">Henan Ancai Hi-Tech Co Ltd - ILLIQ-MFMEM Illiquidity Trend</text>
<line x1="513.5" y1="350.5" x2="546.5" y2="350.5" stroke="#d01424" stroke-width="0.75"/>
<line x1="513.5" y1="363.5" x2="546.5" y2="363.5" stroke="#ceac30" stroke-width="0.75"/>
<text class="yl" x="86.2" y="54.9">100000000</text>
<text class="yl" x="86.2" y="126.9">1000000</text>
<text class="yl" x="86.2" y="198.9">10000</text>
<text class="yl" x="86.2" y="270.9">100</text>
<text class="yl" x="86.2" y="342.9">1</text>
<text class="xl" x="104.8" y="391">2000</text>
<text class="xl" x="152.6" y="391">2002</text>
<text class="xl" x="200.4" y="391">2004</text>
<text class="xl" x="248.1" y="391">2006</text>
<text class="xl" x="295.9" y="391">2008</text>
<text class="xl" x="343.7" y="391">2010</text>
<text class="xl" x="391.5" y="391">2012</text>
<text class="xl" x="439.2" y="391">2014</text>
<text class="xl" x="487.0" y="391">2016</text>
<text class="xl" x="534.8" y="391">2018</text>
<text class="xl" x="582.6" y="391">2020</text>
<text class="xl" x="630.3" y="391">2022</text>
<text class="xl" x="678.1" y="391">2024</text>
<text class="xl" x="725.9" y="391">2026</text>
<text x="740.3" y="9" text-anchor="end" fill="#000" style="letter-spacing:0.12px">V-Lab (2026)</text>
<text transform="translate(16,194) rotate(-90)" text-anchor="middle" fill="#000" style="letter-spacing:0.1px">Illiquidity</text>
</svg></body></html>
